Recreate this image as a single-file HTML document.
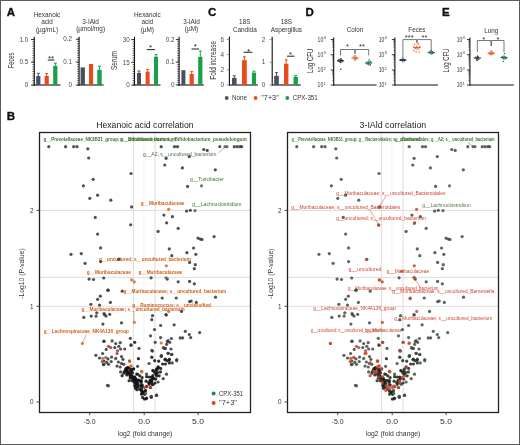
<!DOCTYPE html>
<html><head><meta charset="utf-8"><style>
html,body{margin:0;padding:0;background:#fff;}
body{width:520px;height:445px;overflow:hidden;}
svg{display:block;will-change:transform;font-family:"Liberation Sans", sans-serif;}
</style></head><body>
<svg width="520" height="445" viewBox="0 0 520 445">
<rect x="0" y="0" width="520" height="445" fill="#fff"/>
<text x="6.8" y="15.7" font-size="11.5" font-weight="bold" fill="#111" stroke="#111" stroke-width="0.35">A</text>
<text x="207.9" y="15.9" font-size="11.5" font-weight="bold" fill="#111" stroke="#111" stroke-width="0.35">C</text>
<text x="305.6" y="16.4" font-size="11.5" font-weight="bold" fill="#111" stroke="#111" stroke-width="0.35">D</text>
<text x="442.0" y="15.8" font-size="11.5" font-weight="bold" fill="#111" stroke="#111" stroke-width="0.35">E</text>
<text x="6.8" y="120.4" font-size="11.5" font-weight="bold" fill="#111" stroke="#111" stroke-width="0.35">B</text>
<line x1="34.30" y1="36.70" x2="34.30" y2="85.40" stroke="#111" stroke-width="1.1" />
<line x1="33.80" y1="85.00" x2="60.50" y2="85.00" stroke="#111" stroke-width="1.1" />
<line x1="31.00" y1="39.50" x2="34.30" y2="39.50" stroke="#111" stroke-width="0.8" />
<text x="28.20" y="41.70" font-size="6.3" text-anchor="end" fill="#4a4a4a" >1.0</text>
<line x1="31.00" y1="62.20" x2="34.30" y2="62.20" stroke="#111" stroke-width="0.8" />
<text x="28.20" y="64.40" font-size="6.3" text-anchor="end" fill="#4a4a4a" >0.5</text>
<line x1="31.00" y1="85.20" x2="34.30" y2="85.20" stroke="#111" stroke-width="0.8" />
<text x="28.20" y="87.40" font-size="6.3" text-anchor="end" fill="#4a4a4a" >0</text>
<line x1="32.50" y1="39.50" x2="34.30" y2="39.50" stroke="#222" stroke-width="0.8" />
<line x1="32.50" y1="41.78" x2="34.30" y2="41.78" stroke="#222" stroke-width="0.8" />
<line x1="32.50" y1="44.07" x2="34.30" y2="44.07" stroke="#222" stroke-width="0.8" />
<line x1="32.50" y1="46.36" x2="34.30" y2="46.36" stroke="#222" stroke-width="0.8" />
<line x1="32.50" y1="48.64" x2="34.30" y2="48.64" stroke="#222" stroke-width="0.8" />
<line x1="32.50" y1="50.92" x2="34.30" y2="50.92" stroke="#222" stroke-width="0.8" />
<line x1="32.50" y1="53.21" x2="34.30" y2="53.21" stroke="#222" stroke-width="0.8" />
<line x1="32.50" y1="55.50" x2="34.30" y2="55.50" stroke="#222" stroke-width="0.8" />
<line x1="32.50" y1="57.78" x2="34.30" y2="57.78" stroke="#222" stroke-width="0.8" />
<line x1="32.50" y1="60.06" x2="34.30" y2="60.06" stroke="#222" stroke-width="0.8" />
<line x1="32.50" y1="62.35" x2="34.30" y2="62.35" stroke="#222" stroke-width="0.8" />
<line x1="32.50" y1="64.64" x2="34.30" y2="64.64" stroke="#222" stroke-width="0.8" />
<line x1="32.50" y1="66.92" x2="34.30" y2="66.92" stroke="#222" stroke-width="0.8" />
<line x1="32.50" y1="69.20" x2="34.30" y2="69.20" stroke="#222" stroke-width="0.8" />
<line x1="32.50" y1="71.49" x2="34.30" y2="71.49" stroke="#222" stroke-width="0.8" />
<line x1="32.50" y1="73.78" x2="34.30" y2="73.78" stroke="#222" stroke-width="0.8" />
<line x1="32.50" y1="76.06" x2="34.30" y2="76.06" stroke="#222" stroke-width="0.8" />
<line x1="32.50" y1="78.34" x2="34.30" y2="78.34" stroke="#222" stroke-width="0.8" />
<line x1="32.50" y1="80.63" x2="34.30" y2="80.63" stroke="#222" stroke-width="0.8" />
<line x1="32.50" y1="82.92" x2="34.30" y2="82.92" stroke="#222" stroke-width="0.8" />
<line x1="32.50" y1="85.20" x2="34.30" y2="85.20" stroke="#222" stroke-width="0.8" />
<rect x="36.20" y="76.00" width="4.20" height="9.00" fill="#494f62"/>
<line x1="38.30" y1="76.00" x2="38.30" y2="73.30" stroke="#494f62" stroke-width="1.0" />
<line x1="36.80" y1="73.30" x2="39.80" y2="73.30" stroke="#494f62" stroke-width="1.0" />
<rect x="44.60" y="76.00" width="4.20" height="9.00" fill="#e84c1c"/>
<line x1="46.70" y1="76.00" x2="46.70" y2="73.50" stroke="#e84c1c" stroke-width="1.0" />
<line x1="45.20" y1="73.50" x2="48.20" y2="73.50" stroke="#e84c1c" stroke-width="1.0" />
<rect x="53.20" y="65.80" width="4.20" height="19.20" fill="#18a047"/>
<line x1="55.30" y1="65.80" x2="55.30" y2="63.20" stroke="#18a047" stroke-width="1.0" />
<line x1="53.80" y1="63.20" x2="56.80" y2="63.20" stroke="#18a047" stroke-width="1.0" />
<text x="51.00" y="60.70" font-size="8.0" text-anchor="middle" fill="#222" >**</text>
<line x1="47.80" y1="60.00" x2="54.40" y2="60.00" stroke="#333" stroke-width="1.1" />
<text x="47.00" y="16.80" font-size="6.4" text-anchor="middle" fill="#333" >Hexanoic</text>
<text x="47.00" y="24.40" font-size="6.4" text-anchor="middle" fill="#333" >acid</text>
<text x="47.00" y="31.80" font-size="6.4" text-anchor="middle" fill="#333" >(µg/mL)</text>
<text x="14.10" y="60.50" font-size="8.8" text-anchor="middle" fill="#333" textLength="15.50" lengthAdjust="spacingAndGlyphs" transform="rotate(-90 14.10 60.50)" >Feces</text>
<line x1="79.10" y1="36.70" x2="79.10" y2="85.40" stroke="#111" stroke-width="1.1" />
<line x1="78.60" y1="85.00" x2="103.50" y2="85.00" stroke="#111" stroke-width="1.1" />
<line x1="75.80" y1="39.20" x2="79.10" y2="39.20" stroke="#111" stroke-width="0.8" />
<text x="72.00" y="41.40" font-size="6.3" text-anchor="end" fill="#4a4a4a" >0.2</text>
<line x1="75.80" y1="62.10" x2="79.10" y2="62.10" stroke="#111" stroke-width="0.8" />
<text x="72.00" y="64.30" font-size="6.3" text-anchor="end" fill="#4a4a4a" >0.1</text>
<line x1="75.80" y1="85.00" x2="79.10" y2="85.00" stroke="#111" stroke-width="0.8" />
<text x="72.00" y="87.20" font-size="6.3" text-anchor="end" fill="#4a4a4a" >0</text>
<line x1="77.30" y1="39.20" x2="79.10" y2="39.20" stroke="#222" stroke-width="0.8" />
<line x1="77.30" y1="41.49" x2="79.10" y2="41.49" stroke="#222" stroke-width="0.8" />
<line x1="77.30" y1="43.78" x2="79.10" y2="43.78" stroke="#222" stroke-width="0.8" />
<line x1="77.30" y1="46.07" x2="79.10" y2="46.07" stroke="#222" stroke-width="0.8" />
<line x1="77.30" y1="48.36" x2="79.10" y2="48.36" stroke="#222" stroke-width="0.8" />
<line x1="77.30" y1="50.65" x2="79.10" y2="50.65" stroke="#222" stroke-width="0.8" />
<line x1="77.30" y1="52.94" x2="79.10" y2="52.94" stroke="#222" stroke-width="0.8" />
<line x1="77.30" y1="55.23" x2="79.10" y2="55.23" stroke="#222" stroke-width="0.8" />
<line x1="77.30" y1="57.52" x2="79.10" y2="57.52" stroke="#222" stroke-width="0.8" />
<line x1="77.30" y1="59.81" x2="79.10" y2="59.81" stroke="#222" stroke-width="0.8" />
<line x1="77.30" y1="62.10" x2="79.10" y2="62.10" stroke="#222" stroke-width="0.8" />
<line x1="77.30" y1="64.39" x2="79.10" y2="64.39" stroke="#222" stroke-width="0.8" />
<line x1="77.30" y1="66.68" x2="79.10" y2="66.68" stroke="#222" stroke-width="0.8" />
<line x1="77.30" y1="68.97" x2="79.10" y2="68.97" stroke="#222" stroke-width="0.8" />
<line x1="77.30" y1="71.26" x2="79.10" y2="71.26" stroke="#222" stroke-width="0.8" />
<line x1="77.30" y1="73.55" x2="79.10" y2="73.55" stroke="#222" stroke-width="0.8" />
<line x1="77.30" y1="75.84" x2="79.10" y2="75.84" stroke="#222" stroke-width="0.8" />
<line x1="77.30" y1="78.13" x2="79.10" y2="78.13" stroke="#222" stroke-width="0.8" />
<line x1="77.30" y1="80.42" x2="79.10" y2="80.42" stroke="#222" stroke-width="0.8" />
<line x1="77.30" y1="82.71" x2="79.10" y2="82.71" stroke="#222" stroke-width="0.8" />
<line x1="77.30" y1="85.00" x2="79.10" y2="85.00" stroke="#222" stroke-width="0.8" />
<rect x="80.60" y="67.40" width="4.30" height="17.60" fill="#494f62"/>
<rect x="89.00" y="64.00" width="4.10" height="21.00" fill="#e84c1c"/>
<rect x="97.30" y="69.70" width="4.40" height="15.30" fill="#18a047"/>
<line x1="99.50" y1="69.70" x2="99.50" y2="66.20" stroke="#18a047" stroke-width="1.0" />
<line x1="98.00" y1="66.20" x2="101.00" y2="66.20" stroke="#18a047" stroke-width="1.0" />
<text x="90.60" y="24.10" font-size="6.4" text-anchor="middle" fill="#333" >3-IAld</text>
<text x="90.60" y="31.40" font-size="6.4" text-anchor="middle" fill="#333" >(µmol/mg)</text>
<text x="117.10" y="60.50" font-size="9.0" text-anchor="middle" fill="#333" textLength="19.00" lengthAdjust="spacingAndGlyphs" transform="rotate(-90 117.10 60.50)" >Serum</text>
<line x1="134.50" y1="36.70" x2="134.50" y2="85.40" stroke="#111" stroke-width="1.1" />
<line x1="134.00" y1="85.00" x2="160.50" y2="85.00" stroke="#111" stroke-width="1.1" />
<line x1="131.20" y1="39.60" x2="134.50" y2="39.60" stroke="#111" stroke-width="0.8" />
<text x="129.80" y="41.80" font-size="6.3" text-anchor="end" fill="#4a4a4a" >30</text>
<line x1="131.20" y1="62.40" x2="134.50" y2="62.40" stroke="#111" stroke-width="0.8" />
<text x="129.80" y="64.60" font-size="6.3" text-anchor="end" fill="#4a4a4a" >15</text>
<line x1="131.20" y1="85.10" x2="134.50" y2="85.10" stroke="#111" stroke-width="0.8" />
<text x="129.80" y="87.30" font-size="6.3" text-anchor="end" fill="#4a4a4a" >0</text>
<line x1="132.70" y1="39.60" x2="134.50" y2="39.60" stroke="#222" stroke-width="0.8" />
<line x1="132.70" y1="41.88" x2="134.50" y2="41.88" stroke="#222" stroke-width="0.8" />
<line x1="132.70" y1="44.15" x2="134.50" y2="44.15" stroke="#222" stroke-width="0.8" />
<line x1="132.70" y1="46.42" x2="134.50" y2="46.42" stroke="#222" stroke-width="0.8" />
<line x1="132.70" y1="48.70" x2="134.50" y2="48.70" stroke="#222" stroke-width="0.8" />
<line x1="132.70" y1="50.98" x2="134.50" y2="50.98" stroke="#222" stroke-width="0.8" />
<line x1="132.70" y1="53.25" x2="134.50" y2="53.25" stroke="#222" stroke-width="0.8" />
<line x1="132.70" y1="55.52" x2="134.50" y2="55.52" stroke="#222" stroke-width="0.8" />
<line x1="132.70" y1="57.80" x2="134.50" y2="57.80" stroke="#222" stroke-width="0.8" />
<line x1="132.70" y1="60.08" x2="134.50" y2="60.08" stroke="#222" stroke-width="0.8" />
<line x1="132.70" y1="62.35" x2="134.50" y2="62.35" stroke="#222" stroke-width="0.8" />
<line x1="132.70" y1="64.62" x2="134.50" y2="64.62" stroke="#222" stroke-width="0.8" />
<line x1="132.70" y1="66.90" x2="134.50" y2="66.90" stroke="#222" stroke-width="0.8" />
<line x1="132.70" y1="69.17" x2="134.50" y2="69.17" stroke="#222" stroke-width="0.8" />
<line x1="132.70" y1="71.45" x2="134.50" y2="71.45" stroke="#222" stroke-width="0.8" />
<line x1="132.70" y1="73.72" x2="134.50" y2="73.72" stroke="#222" stroke-width="0.8" />
<line x1="132.70" y1="76.00" x2="134.50" y2="76.00" stroke="#222" stroke-width="0.8" />
<line x1="132.70" y1="78.28" x2="134.50" y2="78.28" stroke="#222" stroke-width="0.8" />
<line x1="132.70" y1="80.55" x2="134.50" y2="80.55" stroke="#222" stroke-width="0.8" />
<line x1="132.70" y1="82.82" x2="134.50" y2="82.82" stroke="#222" stroke-width="0.8" />
<line x1="132.70" y1="85.10" x2="134.50" y2="85.10" stroke="#222" stroke-width="0.8" />
<rect x="137.00" y="73.00" width="4.00" height="12.00" fill="#494f62"/>
<line x1="139.00" y1="73.00" x2="139.00" y2="71.00" stroke="#494f62" stroke-width="1.0" />
<line x1="137.50" y1="71.00" x2="140.50" y2="71.00" stroke="#494f62" stroke-width="1.0" />
<rect x="145.60" y="71.60" width="4.00" height="13.40" fill="#e84c1c"/>
<line x1="147.60" y1="71.60" x2="147.60" y2="69.40" stroke="#e84c1c" stroke-width="1.0" />
<line x1="146.10" y1="69.40" x2="149.10" y2="69.40" stroke="#e84c1c" stroke-width="1.0" />
<rect x="154.00" y="56.70" width="4.00" height="28.30" fill="#18a047"/>
<line x1="156.00" y1="56.70" x2="156.00" y2="54.60" stroke="#18a047" stroke-width="1.0" />
<line x1="154.50" y1="54.60" x2="157.50" y2="54.60" stroke="#18a047" stroke-width="1.0" />
<text x="150.50" y="49.70" font-size="8.0" text-anchor="middle" fill="#222" >*</text>
<line x1="146.70" y1="49.60" x2="155.00" y2="49.60" stroke="#333" stroke-width="1.1" />
<text x="147.30" y="16.70" font-size="6.4" text-anchor="middle" fill="#333" >Hexanoic</text>
<text x="147.30" y="24.20" font-size="6.4" text-anchor="middle" fill="#333" >acid</text>
<text x="147.30" y="32.00" font-size="6.4" text-anchor="middle" fill="#333" >(µM)</text>
<line x1="179.10" y1="36.70" x2="179.10" y2="85.40" stroke="#111" stroke-width="1.1" />
<line x1="178.60" y1="85.00" x2="203.80" y2="85.00" stroke="#111" stroke-width="1.1" />
<line x1="175.80" y1="39.60" x2="179.10" y2="39.60" stroke="#111" stroke-width="0.8" />
<text x="174.50" y="41.80" font-size="6.3" text-anchor="end" fill="#4a4a4a" >0.2</text>
<line x1="175.80" y1="62.10" x2="179.10" y2="62.10" stroke="#111" stroke-width="0.8" />
<text x="174.50" y="64.30" font-size="6.3" text-anchor="end" fill="#4a4a4a" >0.1</text>
<line x1="175.80" y1="84.90" x2="179.10" y2="84.90" stroke="#111" stroke-width="0.8" />
<text x="174.50" y="87.10" font-size="6.3" text-anchor="end" fill="#4a4a4a" >0</text>
<line x1="177.30" y1="39.60" x2="179.10" y2="39.60" stroke="#222" stroke-width="0.8" />
<line x1="177.30" y1="41.87" x2="179.10" y2="41.87" stroke="#222" stroke-width="0.8" />
<line x1="177.30" y1="44.13" x2="179.10" y2="44.13" stroke="#222" stroke-width="0.8" />
<line x1="177.30" y1="46.40" x2="179.10" y2="46.40" stroke="#222" stroke-width="0.8" />
<line x1="177.30" y1="48.66" x2="179.10" y2="48.66" stroke="#222" stroke-width="0.8" />
<line x1="177.30" y1="50.93" x2="179.10" y2="50.93" stroke="#222" stroke-width="0.8" />
<line x1="177.30" y1="53.19" x2="179.10" y2="53.19" stroke="#222" stroke-width="0.8" />
<line x1="177.30" y1="55.45" x2="179.10" y2="55.45" stroke="#222" stroke-width="0.8" />
<line x1="177.30" y1="57.72" x2="179.10" y2="57.72" stroke="#222" stroke-width="0.8" />
<line x1="177.30" y1="59.98" x2="179.10" y2="59.98" stroke="#222" stroke-width="0.8" />
<line x1="177.30" y1="62.25" x2="179.10" y2="62.25" stroke="#222" stroke-width="0.8" />
<line x1="177.30" y1="64.52" x2="179.10" y2="64.52" stroke="#222" stroke-width="0.8" />
<line x1="177.30" y1="66.78" x2="179.10" y2="66.78" stroke="#222" stroke-width="0.8" />
<line x1="177.30" y1="69.05" x2="179.10" y2="69.05" stroke="#222" stroke-width="0.8" />
<line x1="177.30" y1="71.31" x2="179.10" y2="71.31" stroke="#222" stroke-width="0.8" />
<line x1="177.30" y1="73.58" x2="179.10" y2="73.58" stroke="#222" stroke-width="0.8" />
<line x1="177.30" y1="75.84" x2="179.10" y2="75.84" stroke="#222" stroke-width="0.8" />
<line x1="177.30" y1="78.11" x2="179.10" y2="78.11" stroke="#222" stroke-width="0.8" />
<line x1="177.30" y1="80.37" x2="179.10" y2="80.37" stroke="#222" stroke-width="0.8" />
<line x1="177.30" y1="82.64" x2="179.10" y2="82.64" stroke="#222" stroke-width="0.8" />
<line x1="177.30" y1="84.90" x2="179.10" y2="84.90" stroke="#222" stroke-width="0.8" />
<rect x="181.40" y="70.20" width="4.00" height="14.80" fill="#494f62"/>
<rect x="189.60" y="74.00" width="4.20" height="11.00" fill="#e84c1c"/>
<line x1="191.70" y1="74.00" x2="191.70" y2="71.60" stroke="#e84c1c" stroke-width="1.0" />
<line x1="190.20" y1="71.60" x2="193.20" y2="71.60" stroke="#e84c1c" stroke-width="1.0" />
<rect x="198.20" y="56.80" width="4.20" height="28.20" fill="#18a047"/>
<line x1="200.30" y1="56.80" x2="200.30" y2="51.00" stroke="#18a047" stroke-width="1.0" />
<line x1="198.80" y1="51.00" x2="201.80" y2="51.00" stroke="#18a047" stroke-width="1.0" />
<text x="195.30" y="49.30" font-size="8.0" text-anchor="middle" fill="#222" >*</text>
<line x1="191.50" y1="49.00" x2="199.00" y2="49.00" stroke="#333" stroke-width="1.1" />
<text x="191.50" y="24.00" font-size="6.4" text-anchor="middle" fill="#333" >3-IAld</text>
<text x="191.50" y="31.40" font-size="6.4" text-anchor="middle" fill="#333" >(µM)</text>
<line x1="229.40" y1="36.70" x2="229.40" y2="85.40" stroke="#111" stroke-width="1.1" />
<line x1="228.90" y1="85.00" x2="257.80" y2="85.00" stroke="#111" stroke-width="1.1" />
<line x1="226.80" y1="39.50" x2="229.40" y2="39.50" stroke="#777" stroke-width="0.8" />
<text x="224.00" y="41.70" font-size="6.3" text-anchor="end" fill="#4a4a4a" >6</text>
<line x1="226.80" y1="54.60" x2="229.40" y2="54.60" stroke="#777" stroke-width="0.8" />
<text x="224.00" y="56.80" font-size="6.3" text-anchor="end" fill="#4a4a4a" >4</text>
<line x1="226.80" y1="69.80" x2="229.40" y2="69.80" stroke="#777" stroke-width="0.8" />
<text x="224.00" y="72.00" font-size="6.3" text-anchor="end" fill="#4a4a4a" >2</text>
<line x1="226.80" y1="85.00" x2="229.40" y2="85.00" stroke="#777" stroke-width="0.8" />
<text x="224.00" y="87.20" font-size="6.3" text-anchor="end" fill="#4a4a4a" >0</text>
<rect x="232.00" y="77.90" width="4.60" height="7.10" fill="#494f62"/>
<line x1="234.30" y1="77.90" x2="234.30" y2="75.80" stroke="#494f62" stroke-width="1.0" />
<line x1="232.80" y1="75.80" x2="235.80" y2="75.80" stroke="#494f62" stroke-width="1.0" />
<rect x="242.00" y="60.20" width="4.80" height="24.80" fill="#e84c1c"/>
<line x1="244.40" y1="60.20" x2="244.40" y2="56.80" stroke="#e84c1c" stroke-width="1.0" />
<line x1="242.90" y1="56.80" x2="245.90" y2="56.80" stroke="#e84c1c" stroke-width="1.0" />
<rect x="251.90" y="72.60" width="4.20" height="12.40" fill="#18a047"/>
<line x1="254.00" y1="72.60" x2="254.00" y2="71.20" stroke="#18a047" stroke-width="1.0" />
<line x1="252.50" y1="71.20" x2="255.50" y2="71.20" stroke="#18a047" stroke-width="1.0" />
<text x="248.60" y="53.90" font-size="8.0" text-anchor="middle" fill="#222" >*</text>
<line x1="243.60" y1="52.30" x2="252.40" y2="52.30" stroke="#333" stroke-width="1.1" />
<text x="244.80" y="23.50" font-size="6.4" text-anchor="middle" fill="#333" >18S</text>
<text x="244.80" y="31.60" font-size="6.4" text-anchor="middle" fill="#333" >Candida</text>
<text x="215.80" y="60.40" font-size="9.0" text-anchor="middle" fill="#333" textLength="38.80" lengthAdjust="spacingAndGlyphs" transform="rotate(-90 215.80 60.40)" >Fold increase</text>
<line x1="272.20" y1="36.70" x2="272.20" y2="85.40" stroke="#111" stroke-width="1.1" />
<line x1="271.70" y1="85.00" x2="300.80" y2="85.00" stroke="#111" stroke-width="1.1" />
<line x1="269.60" y1="39.40" x2="272.20" y2="39.40" stroke="#777" stroke-width="0.8" />
<text x="265.20" y="41.60" font-size="6.3" text-anchor="end" fill="#4a4a4a" >2</text>
<line x1="269.60" y1="62.20" x2="272.20" y2="62.20" stroke="#777" stroke-width="0.8" />
<text x="265.20" y="64.40" font-size="6.3" text-anchor="end" fill="#4a4a4a" >1</text>
<line x1="269.60" y1="85.00" x2="272.20" y2="85.00" stroke="#777" stroke-width="0.8" />
<text x="265.20" y="87.20" font-size="6.3" text-anchor="end" fill="#4a4a4a" >0</text>
<rect x="274.20" y="75.80" width="4.60" height="9.20" fill="#494f62"/>
<line x1="276.50" y1="75.80" x2="276.50" y2="72.60" stroke="#494f62" stroke-width="1.0" />
<line x1="275.00" y1="72.60" x2="278.00" y2="72.60" stroke="#494f62" stroke-width="1.0" />
<rect x="284.00" y="63.70" width="4.40" height="21.30" fill="#e84c1c"/>
<line x1="286.20" y1="63.70" x2="286.20" y2="59.80" stroke="#e84c1c" stroke-width="1.0" />
<line x1="284.70" y1="59.80" x2="287.70" y2="59.80" stroke="#e84c1c" stroke-width="1.0" />
<rect x="293.50" y="76.80" width="4.40" height="8.20" fill="#18a047"/>
<line x1="295.70" y1="76.80" x2="295.70" y2="75.40" stroke="#18a047" stroke-width="1.0" />
<line x1="294.20" y1="75.40" x2="297.20" y2="75.40" stroke="#18a047" stroke-width="1.0" />
<text x="290.60" y="56.90" font-size="8.0" text-anchor="middle" fill="#222" >*</text>
<line x1="287.00" y1="56.20" x2="294.60" y2="56.20" stroke="#333" stroke-width="1.1" />
<text x="286.40" y="23.90" font-size="6.4" text-anchor="middle" fill="#333" >18S</text>
<text x="286.40" y="32.00" font-size="6.4" text-anchor="middle" fill="#333" >Aspergillus</text>
<circle cx="226.70" cy="98.00" r="1.9" fill="#494f62"/>
<text x="232.00" y="100.40" font-size="6.8" text-anchor="start" fill="#333" textLength="15.00" lengthAdjust="spacingAndGlyphs" >None</text>
<circle cx="255.60" cy="98.00" r="1.9" fill="#e84c1c"/>
<text x="261.30" y="100.40" font-size="6.8" text-anchor="start" fill="#333" textLength="17.40" lengthAdjust="spacingAndGlyphs" >"7+3"</text>
<circle cx="287.30" cy="98.00" r="1.9" fill="#18a047"/>
<text x="292.70" y="100.40" font-size="6.8" text-anchor="start" fill="#333" textLength="25.00" lengthAdjust="spacingAndGlyphs" >CPX-351</text>
<line x1="333.70" y1="37.60" x2="333.70" y2="85.40" stroke="#111" stroke-width="1.1" />
<line x1="333.20" y1="85.00" x2="376.60" y2="85.00" stroke="#111" stroke-width="1.1" />
<line x1="330.70" y1="39.50" x2="333.70" y2="39.50" stroke="#111" stroke-width="0.8" />
<text x="317.60" y="41.70" font-size="6.3" text-anchor="start" fill="#333" textLength="5.60" lengthAdjust="spacingAndGlyphs" >10</text>
<text x="323.40" y="39.00" font-size="4.2" text-anchor="start" fill="#333" >4</text>
<line x1="330.70" y1="54.70" x2="333.70" y2="54.70" stroke="#111" stroke-width="0.8" />
<text x="317.60" y="56.90" font-size="6.3" text-anchor="start" fill="#333" textLength="5.60" lengthAdjust="spacingAndGlyphs" >10</text>
<text x="323.40" y="54.20" font-size="4.2" text-anchor="start" fill="#333" >3</text>
<line x1="330.70" y1="70.00" x2="333.70" y2="70.00" stroke="#111" stroke-width="0.8" />
<text x="317.60" y="72.20" font-size="6.3" text-anchor="start" fill="#333" textLength="5.60" lengthAdjust="spacingAndGlyphs" >10</text>
<text x="323.40" y="69.50" font-size="4.2" text-anchor="start" fill="#333" >2</text>
<line x1="330.70" y1="85.00" x2="333.70" y2="85.00" stroke="#111" stroke-width="0.8" />
<text x="317.60" y="87.20" font-size="6.3" text-anchor="start" fill="#333" textLength="5.60" lengthAdjust="spacingAndGlyphs" >10</text>
<text x="323.40" y="84.50" font-size="4.2" text-anchor="start" fill="#333" >1</text>
<line x1="332.20" y1="50.12" x2="333.70" y2="50.12" stroke="#222" stroke-width="0.5" />
<line x1="332.20" y1="47.45" x2="333.70" y2="47.45" stroke="#222" stroke-width="0.5" />
<line x1="332.20" y1="45.55" x2="333.70" y2="45.55" stroke="#222" stroke-width="0.5" />
<line x1="332.20" y1="44.08" x2="333.70" y2="44.08" stroke="#222" stroke-width="0.5" />
<line x1="332.20" y1="42.87" x2="333.70" y2="42.87" stroke="#222" stroke-width="0.5" />
<line x1="332.20" y1="41.85" x2="333.70" y2="41.85" stroke="#222" stroke-width="0.5" />
<line x1="332.20" y1="40.97" x2="333.70" y2="40.97" stroke="#222" stroke-width="0.5" />
<line x1="332.20" y1="40.20" x2="333.70" y2="40.20" stroke="#222" stroke-width="0.5" />
<line x1="332.20" y1="65.39" x2="333.70" y2="65.39" stroke="#222" stroke-width="0.5" />
<line x1="332.20" y1="62.70" x2="333.70" y2="62.70" stroke="#222" stroke-width="0.5" />
<line x1="332.20" y1="60.79" x2="333.70" y2="60.79" stroke="#222" stroke-width="0.5" />
<line x1="332.20" y1="59.31" x2="333.70" y2="59.31" stroke="#222" stroke-width="0.5" />
<line x1="332.20" y1="58.09" x2="333.70" y2="58.09" stroke="#222" stroke-width="0.5" />
<line x1="332.20" y1="57.07" x2="333.70" y2="57.07" stroke="#222" stroke-width="0.5" />
<line x1="332.20" y1="56.18" x2="333.70" y2="56.18" stroke="#222" stroke-width="0.5" />
<line x1="332.20" y1="55.40" x2="333.70" y2="55.40" stroke="#222" stroke-width="0.5" />
<line x1="332.20" y1="80.48" x2="333.70" y2="80.48" stroke="#222" stroke-width="0.5" />
<line x1="332.20" y1="77.84" x2="333.70" y2="77.84" stroke="#222" stroke-width="0.5" />
<line x1="332.20" y1="75.97" x2="333.70" y2="75.97" stroke="#222" stroke-width="0.5" />
<line x1="332.20" y1="74.52" x2="333.70" y2="74.52" stroke="#222" stroke-width="0.5" />
<line x1="332.20" y1="73.33" x2="333.70" y2="73.33" stroke="#222" stroke-width="0.5" />
<line x1="332.20" y1="72.32" x2="333.70" y2="72.32" stroke="#222" stroke-width="0.5" />
<line x1="332.20" y1="71.45" x2="333.70" y2="71.45" stroke="#222" stroke-width="0.5" />
<line x1="332.20" y1="70.69" x2="333.70" y2="70.69" stroke="#222" stroke-width="0.5" />
<text x="355.00" y="32.10" font-size="6.3" text-anchor="middle" fill="#333" >Colon</text>
<text x="313.00" y="60.75" font-size="8.4" text-anchor="middle" fill="#333" textLength="24.30" lengthAdjust="spacingAndGlyphs" transform="rotate(-90 313.00 60.75)" >Log CFU</text>
<polyline points="340.50,55.50 340.50,49.50 354.80,49.50 354.80,53.80" fill="none" stroke="#555" stroke-width="0.8"/>
<polyline points="355.20,53.80 355.20,49.50 368.70,49.50 368.70,55.50" fill="none" stroke="#555" stroke-width="0.8"/>
<text x="347.40" y="49.00" font-size="7.5" text-anchor="middle" fill="#333" >*</text>
<text x="361.90" y="49.00" font-size="7.5" text-anchor="middle" fill="#333" >**</text>
<circle cx="339.00" cy="59.60" r="0.75" fill="#222a40"/>
<circle cx="341.70" cy="60.00" r="0.75" fill="#222a40"/>
<circle cx="339.70" cy="61.80" r="0.75" fill="#222a40"/>
<circle cx="342.00" cy="62.00" r="0.75" fill="#222a40"/>
<circle cx="340.50" cy="60.80" r="0.75" fill="#222a40"/>
<circle cx="338.50" cy="61.10" r="0.75" fill="#222a40"/>
<circle cx="342.50" cy="60.60" r="0.75" fill="#222a40"/>
<circle cx="340.80" cy="69.30" r="0.75" fill="#222a40"/>
<circle cx="341.00" cy="58.80" r="0.75" fill="#222a40"/>
<line x1="336.90" y1="60.80" x2="344.10" y2="60.80" stroke="#222a40" stroke-width="1.1" />
<line x1="340.50" y1="58.30" x2="340.50" y2="63.30" stroke="#222a40" stroke-width="0.8" />
<circle cx="353.50" cy="57.00" r="0.75" fill="#e2622f"/>
<circle cx="356.20" cy="57.20" r="0.75" fill="#e2622f"/>
<circle cx="354.20" cy="59.00" r="0.75" fill="#e2622f"/>
<circle cx="356.50" cy="58.90" r="0.75" fill="#e2622f"/>
<circle cx="355.00" cy="58.00" r="0.75" fill="#e2622f"/>
<circle cx="355.00" cy="55.80" r="0.75" fill="#e2622f"/>
<circle cx="355.20" cy="60.00" r="0.75" fill="#e2622f"/>
<line x1="351.40" y1="58.00" x2="358.60" y2="58.00" stroke="#e2622f" stroke-width="1.1" />
<line x1="355.00" y1="55.50" x2="355.00" y2="60.50" stroke="#e2622f" stroke-width="0.8" />
<circle cx="367.20" cy="62.00" r="0.75" fill="#1d6e4f"/>
<circle cx="369.90" cy="62.20" r="0.75" fill="#1d6e4f"/>
<circle cx="367.90" cy="64.00" r="0.75" fill="#1d6e4f"/>
<circle cx="370.20" cy="64.20" r="0.75" fill="#1d6e4f"/>
<circle cx="368.70" cy="63.00" r="0.75" fill="#1d6e4f"/>
<circle cx="366.70" cy="63.80" r="0.75" fill="#1d6e4f"/>
<circle cx="370.70" cy="61.50" r="0.75" fill="#1d6e4f"/>
<circle cx="369.30" cy="59.80" r="0.75" fill="#1d6e4f"/>
<circle cx="370.20" cy="65.00" r="0.75" fill="#1d6e4f"/>
<line x1="365.10" y1="63.00" x2="372.30" y2="63.00" stroke="#1d6e4f" stroke-width="1.1" />
<line x1="368.70" y1="60.50" x2="368.70" y2="65.50" stroke="#1d6e4f" stroke-width="0.8" />
<line x1="394.90" y1="37.60" x2="394.90" y2="85.40" stroke="#111" stroke-width="1.1" />
<line x1="394.40" y1="85.00" x2="438.00" y2="85.00" stroke="#111" stroke-width="1.1" />
<line x1="391.90" y1="39.50" x2="394.90" y2="39.50" stroke="#111" stroke-width="0.8" />
<text x="378.80" y="41.70" font-size="6.3" text-anchor="start" fill="#333" textLength="5.60" lengthAdjust="spacingAndGlyphs" >10</text>
<text x="384.60" y="39.00" font-size="4.2" text-anchor="start" fill="#333" >4</text>
<line x1="391.90" y1="54.70" x2="394.90" y2="54.70" stroke="#111" stroke-width="0.8" />
<text x="378.80" y="56.90" font-size="6.3" text-anchor="start" fill="#333" textLength="5.60" lengthAdjust="spacingAndGlyphs" >10</text>
<text x="384.60" y="54.20" font-size="4.2" text-anchor="start" fill="#333" >3</text>
<line x1="391.90" y1="70.00" x2="394.90" y2="70.00" stroke="#111" stroke-width="0.8" />
<text x="378.80" y="72.20" font-size="6.3" text-anchor="start" fill="#333" textLength="5.60" lengthAdjust="spacingAndGlyphs" >10</text>
<text x="384.60" y="69.50" font-size="4.2" text-anchor="start" fill="#333" >2</text>
<line x1="391.90" y1="85.00" x2="394.90" y2="85.00" stroke="#111" stroke-width="0.8" />
<text x="378.80" y="87.20" font-size="6.3" text-anchor="start" fill="#333" textLength="5.60" lengthAdjust="spacingAndGlyphs" >10</text>
<text x="384.60" y="84.50" font-size="4.2" text-anchor="start" fill="#333" >1</text>
<line x1="393.40" y1="50.12" x2="394.90" y2="50.12" stroke="#222" stroke-width="0.5" />
<line x1="393.40" y1="47.45" x2="394.90" y2="47.45" stroke="#222" stroke-width="0.5" />
<line x1="393.40" y1="45.55" x2="394.90" y2="45.55" stroke="#222" stroke-width="0.5" />
<line x1="393.40" y1="44.08" x2="394.90" y2="44.08" stroke="#222" stroke-width="0.5" />
<line x1="393.40" y1="42.87" x2="394.90" y2="42.87" stroke="#222" stroke-width="0.5" />
<line x1="393.40" y1="41.85" x2="394.90" y2="41.85" stroke="#222" stroke-width="0.5" />
<line x1="393.40" y1="40.97" x2="394.90" y2="40.97" stroke="#222" stroke-width="0.5" />
<line x1="393.40" y1="40.20" x2="394.90" y2="40.20" stroke="#222" stroke-width="0.5" />
<line x1="393.40" y1="65.39" x2="394.90" y2="65.39" stroke="#222" stroke-width="0.5" />
<line x1="393.40" y1="62.70" x2="394.90" y2="62.70" stroke="#222" stroke-width="0.5" />
<line x1="393.40" y1="60.79" x2="394.90" y2="60.79" stroke="#222" stroke-width="0.5" />
<line x1="393.40" y1="59.31" x2="394.90" y2="59.31" stroke="#222" stroke-width="0.5" />
<line x1="393.40" y1="58.09" x2="394.90" y2="58.09" stroke="#222" stroke-width="0.5" />
<line x1="393.40" y1="57.07" x2="394.90" y2="57.07" stroke="#222" stroke-width="0.5" />
<line x1="393.40" y1="56.18" x2="394.90" y2="56.18" stroke="#222" stroke-width="0.5" />
<line x1="393.40" y1="55.40" x2="394.90" y2="55.40" stroke="#222" stroke-width="0.5" />
<line x1="393.40" y1="80.48" x2="394.90" y2="80.48" stroke="#222" stroke-width="0.5" />
<line x1="393.40" y1="77.84" x2="394.90" y2="77.84" stroke="#222" stroke-width="0.5" />
<line x1="393.40" y1="75.97" x2="394.90" y2="75.97" stroke="#222" stroke-width="0.5" />
<line x1="393.40" y1="74.52" x2="394.90" y2="74.52" stroke="#222" stroke-width="0.5" />
<line x1="393.40" y1="73.33" x2="394.90" y2="73.33" stroke="#222" stroke-width="0.5" />
<line x1="393.40" y1="72.32" x2="394.90" y2="72.32" stroke="#222" stroke-width="0.5" />
<line x1="393.40" y1="71.45" x2="394.90" y2="71.45" stroke="#222" stroke-width="0.5" />
<line x1="393.40" y1="70.69" x2="394.90" y2="70.69" stroke="#222" stroke-width="0.5" />
<text x="416.90" y="31.70" font-size="6.3" text-anchor="middle" fill="#333" >Feces</text>
<polyline points="402.90,58.50 402.90,39.60 416.60,39.60 416.60,42.50" fill="none" stroke="#555" stroke-width="0.8"/>
<polyline points="417.20,42.50 417.20,39.60 431.20,39.60 431.20,50.50" fill="none" stroke="#555" stroke-width="0.8"/>
<text x="409.20" y="39.80" font-size="7.5" text-anchor="middle" fill="#333" >***</text>
<text x="424.50" y="39.80" font-size="7.5" text-anchor="middle" fill="#333" >**</text>
<circle cx="401.40" cy="59.60" r="0.75" fill="#222a40"/>
<circle cx="404.10" cy="59.60" r="0.75" fill="#222a40"/>
<circle cx="402.10" cy="60.60" r="0.75" fill="#222a40"/>
<circle cx="404.40" cy="60.70" r="0.75" fill="#222a40"/>
<circle cx="402.90" cy="60.10" r="0.75" fill="#222a40"/>
<circle cx="400.70" cy="60.30" r="0.75" fill="#222a40"/>
<circle cx="405.10" cy="60.10" r="0.75" fill="#222a40"/>
<line x1="399.30" y1="60.10" x2="406.50" y2="60.10" stroke="#222a40" stroke-width="1.1" />
<line x1="402.90" y1="57.60" x2="402.90" y2="62.60" stroke="#222a40" stroke-width="0.8" />
<circle cx="414.40" cy="44.50" r="0.75" fill="#e2622f"/>
<circle cx="418.70" cy="44.00" r="0.75" fill="#e2622f"/>
<circle cx="415.40" cy="48.50" r="0.75" fill="#e2622f"/>
<circle cx="418.90" cy="48.70" r="0.75" fill="#e2622f"/>
<circle cx="416.90" cy="47.50" r="0.75" fill="#e2622f"/>
<circle cx="413.90" cy="47.00" r="0.75" fill="#e2622f"/>
<circle cx="419.90" cy="46.50" r="0.75" fill="#e2622f"/>
<circle cx="417.40" cy="43.00" r="0.75" fill="#e2622f"/>
<circle cx="416.10" cy="51.70" r="0.75" fill="#e2622f"/>
<circle cx="419.10" cy="52.00" r="0.75" fill="#e2622f"/>
<circle cx="413.90" cy="50.50" r="0.75" fill="#e2622f"/>
<line x1="413.30" y1="47.50" x2="420.50" y2="47.50" stroke="#e2622f" stroke-width="1.1" />
<line x1="416.90" y1="45.00" x2="416.90" y2="50.00" stroke="#e2622f" stroke-width="0.8" />
<circle cx="429.70" cy="51.70" r="0.75" fill="#1d6e4f"/>
<circle cx="432.40" cy="51.70" r="0.75" fill="#1d6e4f"/>
<circle cx="430.40" cy="53.30" r="0.75" fill="#1d6e4f"/>
<circle cx="432.70" cy="53.40" r="0.75" fill="#1d6e4f"/>
<circle cx="431.20" cy="52.50" r="0.75" fill="#1d6e4f"/>
<circle cx="429.00" cy="52.50" r="0.75" fill="#1d6e4f"/>
<circle cx="433.40" cy="52.70" r="0.75" fill="#1d6e4f"/>
<circle cx="431.20" cy="50.50" r="0.75" fill="#1d6e4f"/>
<line x1="427.60" y1="52.50" x2="434.80" y2="52.50" stroke="#1d6e4f" stroke-width="1.1" />
<line x1="431.20" y1="50.00" x2="431.20" y2="55.00" stroke="#1d6e4f" stroke-width="0.8" />
<line x1="469.90" y1="37.60" x2="469.90" y2="85.40" stroke="#111" stroke-width="1.1" />
<line x1="469.40" y1="85.00" x2="513.80" y2="85.00" stroke="#111" stroke-width="1.1" />
<line x1="466.90" y1="39.50" x2="469.90" y2="39.50" stroke="#111" stroke-width="0.8" />
<text x="456.80" y="41.70" font-size="6.3" text-anchor="start" fill="#333" textLength="5.60" lengthAdjust="spacingAndGlyphs" >10</text>
<text x="462.60" y="39.00" font-size="4.2" text-anchor="start" fill="#333" >4</text>
<line x1="466.90" y1="54.70" x2="469.90" y2="54.70" stroke="#111" stroke-width="0.8" />
<text x="456.80" y="56.90" font-size="6.3" text-anchor="start" fill="#333" textLength="5.60" lengthAdjust="spacingAndGlyphs" >10</text>
<text x="462.60" y="54.20" font-size="4.2" text-anchor="start" fill="#333" >3</text>
<line x1="466.90" y1="70.00" x2="469.90" y2="70.00" stroke="#111" stroke-width="0.8" />
<text x="456.80" y="72.20" font-size="6.3" text-anchor="start" fill="#333" textLength="5.60" lengthAdjust="spacingAndGlyphs" >10</text>
<text x="462.60" y="69.50" font-size="4.2" text-anchor="start" fill="#333" >2</text>
<line x1="466.90" y1="85.00" x2="469.90" y2="85.00" stroke="#111" stroke-width="0.8" />
<text x="456.80" y="87.20" font-size="6.3" text-anchor="start" fill="#333" textLength="5.60" lengthAdjust="spacingAndGlyphs" >10</text>
<text x="462.60" y="84.50" font-size="4.2" text-anchor="start" fill="#333" >1</text>
<line x1="468.40" y1="50.12" x2="469.90" y2="50.12" stroke="#222" stroke-width="0.5" />
<line x1="468.40" y1="47.45" x2="469.90" y2="47.45" stroke="#222" stroke-width="0.5" />
<line x1="468.40" y1="45.55" x2="469.90" y2="45.55" stroke="#222" stroke-width="0.5" />
<line x1="468.40" y1="44.08" x2="469.90" y2="44.08" stroke="#222" stroke-width="0.5" />
<line x1="468.40" y1="42.87" x2="469.90" y2="42.87" stroke="#222" stroke-width="0.5" />
<line x1="468.40" y1="41.85" x2="469.90" y2="41.85" stroke="#222" stroke-width="0.5" />
<line x1="468.40" y1="40.97" x2="469.90" y2="40.97" stroke="#222" stroke-width="0.5" />
<line x1="468.40" y1="40.20" x2="469.90" y2="40.20" stroke="#222" stroke-width="0.5" />
<line x1="468.40" y1="65.39" x2="469.90" y2="65.39" stroke="#222" stroke-width="0.5" />
<line x1="468.40" y1="62.70" x2="469.90" y2="62.70" stroke="#222" stroke-width="0.5" />
<line x1="468.40" y1="60.79" x2="469.90" y2="60.79" stroke="#222" stroke-width="0.5" />
<line x1="468.40" y1="59.31" x2="469.90" y2="59.31" stroke="#222" stroke-width="0.5" />
<line x1="468.40" y1="58.09" x2="469.90" y2="58.09" stroke="#222" stroke-width="0.5" />
<line x1="468.40" y1="57.07" x2="469.90" y2="57.07" stroke="#222" stroke-width="0.5" />
<line x1="468.40" y1="56.18" x2="469.90" y2="56.18" stroke="#222" stroke-width="0.5" />
<line x1="468.40" y1="55.40" x2="469.90" y2="55.40" stroke="#222" stroke-width="0.5" />
<line x1="468.40" y1="80.48" x2="469.90" y2="80.48" stroke="#222" stroke-width="0.5" />
<line x1="468.40" y1="77.84" x2="469.90" y2="77.84" stroke="#222" stroke-width="0.5" />
<line x1="468.40" y1="75.97" x2="469.90" y2="75.97" stroke="#222" stroke-width="0.5" />
<line x1="468.40" y1="74.52" x2="469.90" y2="74.52" stroke="#222" stroke-width="0.5" />
<line x1="468.40" y1="73.33" x2="469.90" y2="73.33" stroke="#222" stroke-width="0.5" />
<line x1="468.40" y1="72.32" x2="469.90" y2="72.32" stroke="#222" stroke-width="0.5" />
<line x1="468.40" y1="71.45" x2="469.90" y2="71.45" stroke="#222" stroke-width="0.5" />
<line x1="468.40" y1="70.69" x2="469.90" y2="70.69" stroke="#222" stroke-width="0.5" />
<text x="491.20" y="32.50" font-size="6.3" text-anchor="middle" fill="#333" >Lung</text>
<text x="449.00" y="60.50" font-size="8.4" text-anchor="middle" fill="#333" textLength="23.80" lengthAdjust="spacingAndGlyphs" transform="rotate(-90 449.00 60.50)" >Log CFU</text>
<polyline points="477.30,52.00 477.30,40.50 490.90,40.50 490.90,46.00" fill="none" stroke="#555" stroke-width="0.8"/>
<polyline points="491.50,46.00 491.50,40.50 504.00,40.50 504.00,52.00" fill="none" stroke="#555" stroke-width="0.8"/>
<text x="483.70" y="42.00" font-size="7.5" text-anchor="middle" fill="#333" >*</text>
<text x="498.00" y="42.00" font-size="7.5" text-anchor="middle" fill="#333" >*</text>
<circle cx="475.80" cy="57.20" r="0.75" fill="#222a40"/>
<circle cx="478.50" cy="57.20" r="0.75" fill="#222a40"/>
<circle cx="476.50" cy="58.90" r="0.75" fill="#222a40"/>
<circle cx="478.80" cy="59.20" r="0.75" fill="#222a40"/>
<circle cx="477.30" cy="58.00" r="0.75" fill="#222a40"/>
<circle cx="477.00" cy="60.50" r="0.75" fill="#222a40"/>
<circle cx="477.70" cy="56.20" r="0.75" fill="#222a40"/>
<line x1="473.70" y1="58.00" x2="480.90" y2="58.00" stroke="#222a40" stroke-width="1.1" />
<line x1="477.30" y1="55.50" x2="477.30" y2="60.50" stroke="#222a40" stroke-width="0.8" />
<circle cx="489.70" cy="52.30" r="0.75" fill="#e2622f"/>
<circle cx="492.40" cy="52.20" r="0.75" fill="#e2622f"/>
<circle cx="490.40" cy="54.30" r="0.75" fill="#e2622f"/>
<circle cx="492.70" cy="54.20" r="0.75" fill="#e2622f"/>
<circle cx="491.20" cy="53.30" r="0.75" fill="#e2622f"/>
<circle cx="491.20" cy="51.10" r="0.75" fill="#e2622f"/>
<circle cx="489.20" cy="53.80" r="0.75" fill="#e2622f"/>
<circle cx="493.40" cy="53.30" r="0.75" fill="#e2622f"/>
<line x1="487.60" y1="53.30" x2="494.80" y2="53.30" stroke="#e2622f" stroke-width="1.1" />
<line x1="491.20" y1="50.80" x2="491.20" y2="55.80" stroke="#e2622f" stroke-width="0.8" />
<circle cx="502.50" cy="56.60" r="0.75" fill="#1d6e4f"/>
<circle cx="505.20" cy="56.80" r="0.75" fill="#1d6e4f"/>
<circle cx="503.20" cy="58.80" r="0.75" fill="#1d6e4f"/>
<circle cx="505.50" cy="58.80" r="0.75" fill="#1d6e4f"/>
<circle cx="504.00" cy="57.60" r="0.75" fill="#1d6e4f"/>
<circle cx="503.20" cy="61.40" r="0.75" fill="#1d6e4f"/>
<circle cx="504.50" cy="53.60" r="0.75" fill="#1d6e4f"/>
<circle cx="506.30" cy="58.10" r="0.75" fill="#1d6e4f"/>
<circle cx="501.70" cy="57.40" r="0.75" fill="#1d6e4f"/>
<line x1="500.40" y1="57.60" x2="507.60" y2="57.60" stroke="#1d6e4f" stroke-width="1.1" />
<line x1="504.00" y1="55.10" x2="504.00" y2="60.10" stroke="#1d6e4f" stroke-width="0.8" />
<line x1="39.50" y1="210.40" x2="250.50" y2="210.40" stroke="#cfcfcf" stroke-width="0.7" />
<line x1="39.50" y1="277.40" x2="250.50" y2="277.40" stroke="#cfcfcf" stroke-width="0.7" />
<line x1="39.50" y1="306.30" x2="250.50" y2="306.30" stroke="#cfcfcf" stroke-width="0.7" />
<line x1="133.40" y1="132.50" x2="133.40" y2="412.50" stroke="#cfcfcf" stroke-width="0.7" />
<line x1="155.00" y1="132.50" x2="155.00" y2="412.50" stroke="#cfcfcf" stroke-width="0.7" />
<line x1="144.00" y1="132.50" x2="144.00" y2="412.50" stroke="#efefef" stroke-width="0.7" />
<text x="144.90" y="127.60" font-size="9.0" text-anchor="middle" fill="#222" textLength="97.40" lengthAdjust="spacingAndGlyphs" >Hexanoic acid correlation</text>
<line x1="36.50" y1="210.40" x2="39.50" y2="210.40" stroke="#222" stroke-width="0.8" />
<text x="33.50" y="212.60" font-size="6.3" text-anchor="end" fill="#333" >2</text>
<line x1="36.50" y1="306.30" x2="39.50" y2="306.30" stroke="#222" stroke-width="0.8" />
<text x="33.50" y="308.50" font-size="6.3" text-anchor="end" fill="#333" >1</text>
<line x1="36.50" y1="402.00" x2="39.50" y2="402.00" stroke="#222" stroke-width="0.8" />
<text x="33.50" y="404.20" font-size="6.3" text-anchor="end" fill="#333" >0</text>
<line x1="89.70" y1="412.50" x2="89.70" y2="415.30" stroke="#222" stroke-width="0.8" />
<text x="89.70" y="424.20" font-size="6.3" text-anchor="middle" fill="#333" textLength="12.00" lengthAdjust="spacingAndGlyphs" >-5.0</text>
<line x1="144.20" y1="412.50" x2="144.20" y2="415.30" stroke="#222" stroke-width="0.8" />
<text x="144.20" y="424.20" font-size="6.3" text-anchor="middle" fill="#333" textLength="12.00" lengthAdjust="spacingAndGlyphs" >0.0</text>
<line x1="198.10" y1="412.50" x2="198.10" y2="415.30" stroke="#222" stroke-width="0.8" />
<text x="198.10" y="424.20" font-size="6.3" text-anchor="middle" fill="#333" textLength="12.00" lengthAdjust="spacingAndGlyphs" >5.0</text>
<text x="145.00" y="435.50" font-size="7.6" text-anchor="middle" fill="#333" textLength="54.60" lengthAdjust="spacingAndGlyphs" >log2 (fold change)</text>
<text x="24.20" y="273.60" font-size="7.2" text-anchor="middle" fill="#333" textLength="50.50" lengthAdjust="spacingAndGlyphs" transform="rotate(-90 24.20 273.60)" >-Log10 (P-value)</text>
<text x="43.40" y="140.80" font-size="5.0" text-anchor="start" fill="#3f7230" font-weight="bold" textLength="132.60" lengthAdjust="spacingAndGlyphs" >g__Prevotellaceae_NK3B31_group; s__uncultured_bacterium</text>
<text x="120.00" y="140.80" font-size="5.0" text-anchor="start" fill="#3f7230" font-weight="bold" textLength="126.60" lengthAdjust="spacingAndGlyphs" >g__Bifidobacterium; s__Bifidobacterium_pseudolongum</text>
<text x="143.00" y="156.30" font-size="5.0" text-anchor="start" fill="#46703a" textLength="73.50" lengthAdjust="spacingAndGlyphs" >g__A2; s__uncultured_bacterium</text>
<line x1="218.50" y1="152.80" x2="224.50" y2="147.50" stroke="#3f7230" stroke-width="0.5" />
<text x="189.90" y="181.10" font-size="5.0" text-anchor="start" fill="#46703a" textLength="33.90" lengthAdjust="spacingAndGlyphs" >g__Turicibacter</text>
<text x="192.30" y="206.00" font-size="5.0" text-anchor="start" fill="#46703a" textLength="49.30" lengthAdjust="spacingAndGlyphs" >g__Lachnoclostridium</text>
<text x="140.80" y="205.10" font-size="5.0" text-anchor="start" fill="#d05e1a" font-weight="bold" textLength="43.70" lengthAdjust="spacingAndGlyphs" >g__Muribaculaceae</text>
<text x="99.00" y="261.00" font-size="5.0" text-anchor="start" fill="#d05e1a" font-weight="bold" textLength="91.80" lengthAdjust="spacingAndGlyphs" >g__uncultured; s__uncultured_bacterium</text>
<text x="86.80" y="273.80" font-size="5.0" text-anchor="start" fill="#d05e1a" font-weight="bold" textLength="44.00" lengthAdjust="spacingAndGlyphs" >g__Muribaculaceae</text>
<text x="138.50" y="273.80" font-size="5.0" text-anchor="start" fill="#d05e1a" font-weight="bold" textLength="43.70" lengthAdjust="spacingAndGlyphs" >g__Muribaculaceae</text>
<text x="123.50" y="292.60" font-size="5.0" text-anchor="start" fill="#d05e1a" font-weight="bold" textLength="102.70" lengthAdjust="spacingAndGlyphs" >g__Muribaculaceae; s__uncultured_bacterium</text>
<text x="132.30" y="306.70" font-size="5.0" text-anchor="start" fill="#d05e1a" font-weight="bold" textLength="78.50" lengthAdjust="spacingAndGlyphs" >g__Ruminococcus; s__unclassified</text>
<text x="81.50" y="310.80" font-size="5.0" text-anchor="start" fill="#d05e1a" font-weight="bold" textLength="103.10" lengthAdjust="spacingAndGlyphs" >g__Muribaculaceae; s__uncultured_bacterium</text>
<text x="43.70" y="333.30" font-size="5.0" text-anchor="start" fill="#d05e1a" font-weight="bold" textLength="85.20" lengthAdjust="spacingAndGlyphs" >g__Lachnospiraceae_NK4A136_group</text>
<line x1="86.50" y1="334.50" x2="82.80" y2="342.00" stroke="#d05e1a" stroke-width="0.5" />
<line x1="133.80" y1="311.00" x2="134.20" y2="321.00" stroke="#d05e1a" stroke-width="0.5" />
<circle cx="48.80" cy="146.70" r="1.6" fill="#38393d" fill-opacity="0.88"/>
<circle cx="65.60" cy="146.70" r="1.6" fill="#38393d" fill-opacity="0.88"/>
<circle cx="73.70" cy="146.70" r="1.6" fill="#38393d" fill-opacity="0.88"/>
<circle cx="77.00" cy="146.70" r="1.6" fill="#38393d" fill-opacity="0.88"/>
<circle cx="161.20" cy="146.70" r="1.6" fill="#38393d" fill-opacity="0.88"/>
<circle cx="174.50" cy="146.70" r="1.6" fill="#38393d" fill-opacity="0.88"/>
<circle cx="177.50" cy="146.70" r="1.6" fill="#38393d" fill-opacity="0.88"/>
<circle cx="219.80" cy="146.70" r="1.6" fill="#38393d" fill-opacity="0.88"/>
<circle cx="234.30" cy="146.70" r="1.6" fill="#38393d" fill-opacity="0.88"/>
<circle cx="237.10" cy="146.70" r="1.6" fill="#38393d" fill-opacity="0.88"/>
<circle cx="239.90" cy="146.70" r="1.6" fill="#38393d" fill-opacity="0.88"/>
<circle cx="241.60" cy="146.70" r="1.6" fill="#38393d" fill-opacity="0.88"/>
<circle cx="87.80" cy="148.80" r="1.6" fill="#38393d" fill-opacity="0.88"/>
<circle cx="88.70" cy="158.00" r="1.6" fill="#38393d" fill-opacity="0.88"/>
<circle cx="93.20" cy="179.30" r="1.6" fill="#38393d" fill-opacity="0.88"/>
<circle cx="203.70" cy="149.50" r="1.6" fill="#38393d" fill-opacity="0.88"/>
<circle cx="207.20" cy="150.40" r="1.6" fill="#38393d" fill-opacity="0.88"/>
<circle cx="166.10" cy="158.30" r="1.6" fill="#38393d" fill-opacity="0.88"/>
<circle cx="164.80" cy="165.00" r="1.6" fill="#38393d" fill-opacity="0.88"/>
<circle cx="131.00" cy="173.50" r="1.6" fill="#38393d" fill-opacity="0.88"/>
<circle cx="189.30" cy="156.60" r="1.6" fill="#38393d" fill-opacity="0.88"/>
<circle cx="182.40" cy="167.90" r="1.6" fill="#38393d" fill-opacity="0.88"/>
<circle cx="215.30" cy="169.80" r="1.6" fill="#38393d" fill-opacity="0.88"/>
<circle cx="83.40" cy="185.80" r="1.6" fill="#38393d" fill-opacity="0.88"/>
<circle cx="97.60" cy="195.20" r="1.6" fill="#38393d" fill-opacity="0.88"/>
<circle cx="89.80" cy="198.30" r="1.6" fill="#38393d" fill-opacity="0.88"/>
<circle cx="95.20" cy="217.40" r="1.6" fill="#38393d" fill-opacity="0.88"/>
<circle cx="110.80" cy="200.20" r="1.6" fill="#38393d" fill-opacity="0.88"/>
<circle cx="131.60" cy="206.90" r="1.6" fill="#38393d" fill-opacity="0.88"/>
<circle cx="163.90" cy="215.10" r="1.6" fill="#38393d" fill-opacity="0.88"/>
<circle cx="166.60" cy="222.80" r="1.6" fill="#38393d" fill-opacity="0.88"/>
<circle cx="130.70" cy="224.80" r="1.6" fill="#38393d" fill-opacity="0.88"/>
<circle cx="187.60" cy="186.40" r="1.6" fill="#38393d" fill-opacity="0.88"/>
<circle cx="186.60" cy="211.10" r="1.6" fill="#38393d" fill-opacity="0.88"/>
<circle cx="190.30" cy="210.30" r="1.6" fill="#38393d" fill-opacity="0.88"/>
<circle cx="172.40" cy="216.70" r="1.6" fill="#38393d" fill-opacity="0.88"/>
<circle cx="97.60" cy="234.10" r="1.6" fill="#38393d" fill-opacity="0.88"/>
<circle cx="100.60" cy="247.90" r="1.6" fill="#38393d" fill-opacity="0.88"/>
<circle cx="71.00" cy="254.30" r="1.6" fill="#38393d" fill-opacity="0.88"/>
<circle cx="81.30" cy="253.60" r="1.6" fill="#38393d" fill-opacity="0.88"/>
<circle cx="85.10" cy="263.30" r="1.6" fill="#38393d" fill-opacity="0.88"/>
<circle cx="100.60" cy="261.60" r="1.6" fill="#38393d" fill-opacity="0.88"/>
<circle cx="158.10" cy="231.40" r="1.6" fill="#38393d" fill-opacity="0.88"/>
<circle cx="169.30" cy="248.90" r="1.6" fill="#38393d" fill-opacity="0.88"/>
<circle cx="118.80" cy="259.30" r="1.6" fill="#38393d" fill-opacity="0.88"/>
<circle cx="178.20" cy="228.30" r="1.6" fill="#38393d" fill-opacity="0.88"/>
<circle cx="198.10" cy="238.20" r="1.6" fill="#38393d" fill-opacity="0.88"/>
<circle cx="200.40" cy="239.10" r="1.6" fill="#38393d" fill-opacity="0.88"/>
<circle cx="202.00" cy="239.50" r="1.6" fill="#38393d" fill-opacity="0.88"/>
<circle cx="214.10" cy="236.60" r="1.6" fill="#38393d" fill-opacity="0.88"/>
<circle cx="193.60" cy="248.00" r="1.6" fill="#38393d" fill-opacity="0.88"/>
<circle cx="186.90" cy="252.70" r="1.6" fill="#38393d" fill-opacity="0.88"/>
<circle cx="195.90" cy="254.30" r="1.6" fill="#38393d" fill-opacity="0.88"/>
<circle cx="171.80" cy="255.70" r="1.6" fill="#38393d" fill-opacity="0.88"/>
<circle cx="189.60" cy="262.40" r="1.6" fill="#38393d" fill-opacity="0.88"/>
<circle cx="195.30" cy="264.70" r="1.6" fill="#38393d" fill-opacity="0.88"/>
<circle cx="194.30" cy="268.70" r="1.6" fill="#38393d" fill-opacity="0.88"/>
<circle cx="89.10" cy="279.10" r="1.6" fill="#38393d" fill-opacity="0.88"/>
<circle cx="93.50" cy="279.50" r="1.6" fill="#38393d" fill-opacity="0.88"/>
<circle cx="103.70" cy="278.00" r="1.6" fill="#38393d" fill-opacity="0.88"/>
<circle cx="107.70" cy="290.20" r="1.6" fill="#38393d" fill-opacity="0.88"/>
<circle cx="100.30" cy="296.20" r="1.6" fill="#38393d" fill-opacity="0.88"/>
<circle cx="97.60" cy="299.30" r="1.6" fill="#38393d" fill-opacity="0.88"/>
<circle cx="90.90" cy="304.30" r="1.6" fill="#38393d" fill-opacity="0.88"/>
<circle cx="99.50" cy="305.10" r="1.6" fill="#38393d" fill-opacity="0.88"/>
<circle cx="96.80" cy="312.80" r="1.6" fill="#38393d" fill-opacity="0.88"/>
<circle cx="104.00" cy="313.50" r="1.6" fill="#38393d" fill-opacity="0.88"/>
<circle cx="151.10" cy="277.80" r="1.6" fill="#38393d" fill-opacity="0.88"/>
<circle cx="167.30" cy="279.10" r="1.6" fill="#38393d" fill-opacity="0.88"/>
<circle cx="108.30" cy="290.20" r="1.6" fill="#38393d" fill-opacity="0.88"/>
<circle cx="122.20" cy="291.20" r="1.6" fill="#38393d" fill-opacity="0.88"/>
<circle cx="110.40" cy="302.40" r="1.6" fill="#38393d" fill-opacity="0.88"/>
<circle cx="162.20" cy="298.00" r="1.6" fill="#38393d" fill-opacity="0.88"/>
<circle cx="178.20" cy="281.80" r="1.6" fill="#38393d" fill-opacity="0.88"/>
<circle cx="189.60" cy="281.40" r="1.6" fill="#38393d" fill-opacity="0.88"/>
<circle cx="194.30" cy="283.80" r="1.6" fill="#38393d" fill-opacity="0.88"/>
<circle cx="176.20" cy="298.00" r="1.6" fill="#38393d" fill-opacity="0.88"/>
<circle cx="215.50" cy="297.20" r="1.6" fill="#38393d" fill-opacity="0.88"/>
<circle cx="189.60" cy="301.60" r="1.6" fill="#38393d" fill-opacity="0.88"/>
<circle cx="191.20" cy="301.00" r="1.6" fill="#38393d" fill-opacity="0.88"/>
<circle cx="196.30" cy="302.40" r="1.6" fill="#38393d" fill-opacity="0.88"/>
<circle cx="181.50" cy="311.40" r="1.6" fill="#38393d" fill-opacity="0.88"/>
<circle cx="166.00" cy="314.50" r="1.6" fill="#38393d" fill-opacity="0.88"/>
<circle cx="83.80" cy="317.40" r="1.6" fill="#38393d" fill-opacity="0.88"/>
<circle cx="91.20" cy="316.10" r="1.6" fill="#38393d" fill-opacity="0.88"/>
<circle cx="96.10" cy="316.10" r="1.6" fill="#38393d" fill-opacity="0.88"/>
<circle cx="104.60" cy="314.70" r="1.6" fill="#38393d" fill-opacity="0.88"/>
<circle cx="106.00" cy="316.10" r="1.6" fill="#38393d" fill-opacity="0.88"/>
<circle cx="102.90" cy="324.10" r="1.6" fill="#38393d" fill-opacity="0.88"/>
<circle cx="103.90" cy="341.20" r="1.6" fill="#38393d" fill-opacity="0.88"/>
<circle cx="109.70" cy="314.30" r="1.6" fill="#38393d" fill-opacity="0.88"/>
<circle cx="121.50" cy="322.80" r="1.6" fill="#38393d" fill-opacity="0.88"/>
<circle cx="152.50" cy="315.70" r="1.6" fill="#38393d" fill-opacity="0.88"/>
<circle cx="151.80" cy="319.70" r="1.6" fill="#38393d" fill-opacity="0.88"/>
<circle cx="166.20" cy="315.10" r="1.6" fill="#38393d" fill-opacity="0.88"/>
<circle cx="160.60" cy="325.50" r="1.6" fill="#38393d" fill-opacity="0.88"/>
<circle cx="154.50" cy="329.50" r="1.6" fill="#38393d" fill-opacity="0.88"/>
<circle cx="150.50" cy="335.80" r="1.6" fill="#38393d" fill-opacity="0.88"/>
<circle cx="160.60" cy="337.60" r="1.6" fill="#38393d" fill-opacity="0.88"/>
<circle cx="130.30" cy="338.30" r="1.6" fill="#38393d" fill-opacity="0.88"/>
<circle cx="134.70" cy="342.30" r="1.6" fill="#141416" fill-opacity="0.88"/>
<circle cx="155.20" cy="342.30" r="1.6" fill="#38393d" fill-opacity="0.88"/>
<circle cx="167.30" cy="341.60" r="1.6" fill="#38393d" fill-opacity="0.88"/>
<circle cx="166.60" cy="344.30" r="1.6" fill="#38393d" fill-opacity="0.88"/>
<circle cx="174.10" cy="324.80" r="1.6" fill="#38393d" fill-opacity="0.88"/>
<circle cx="185.30" cy="331.30" r="1.6" fill="#38393d" fill-opacity="0.88"/>
<circle cx="189.30" cy="334.50" r="1.6" fill="#38393d" fill-opacity="0.88"/>
<circle cx="190.70" cy="337.60" r="1.6" fill="#38393d" fill-opacity="0.88"/>
<circle cx="199.70" cy="332.60" r="1.6" fill="#38393d" fill-opacity="0.88"/>
<circle cx="180.20" cy="337.90" r="1.6" fill="#38393d" fill-opacity="0.88"/>
<circle cx="182.60" cy="337.90" r="1.6" fill="#38393d" fill-opacity="0.88"/>
<circle cx="171.40" cy="338.50" r="1.6" fill="#38393d" fill-opacity="0.88"/>
<circle cx="168.10" cy="340.70" r="1.6" fill="#38393d" fill-opacity="0.88"/>
<circle cx="169.70" cy="342.30" r="1.6" fill="#38393d" fill-opacity="0.88"/>
<circle cx="163.40" cy="347.70" r="1.6" fill="#38393d" fill-opacity="0.88"/>
<circle cx="165.40" cy="348.40" r="1.6" fill="#38393d" fill-opacity="0.88"/>
<circle cx="171.00" cy="349.00" r="1.6" fill="#38393d" fill-opacity="0.88"/>
<circle cx="168.10" cy="353.30" r="1.6" fill="#38393d" fill-opacity="0.88"/>
<circle cx="171.80" cy="354.40" r="1.6" fill="#38393d" fill-opacity="0.88"/>
<circle cx="161.30" cy="355.80" r="1.6" fill="#38393d" fill-opacity="0.88"/>
<circle cx="165.40" cy="359.10" r="1.6" fill="#38393d" fill-opacity="0.88"/>
<circle cx="169.40" cy="359.10" r="1.6" fill="#38393d" fill-opacity="0.88"/>
<circle cx="176.80" cy="359.50" r="1.6" fill="#38393d" fill-opacity="0.88"/>
<circle cx="139.00" cy="348.40" r="1.6" fill="#38393d" fill-opacity="0.88"/>
<circle cx="164.60" cy="348.40" r="1.6" fill="#38393d" fill-opacity="0.88"/>
<circle cx="151.80" cy="350.40" r="1.6" fill="#38393d" fill-opacity="0.88"/>
<circle cx="151.80" cy="357.10" r="1.6" fill="#38393d" fill-opacity="0.88"/>
<circle cx="161.20" cy="356.40" r="1.6" fill="#38393d" fill-opacity="0.88"/>
<circle cx="138.40" cy="358.70" r="1.6" fill="#141416" fill-opacity="0.88"/>
<circle cx="131.00" cy="345.30" r="1.6" fill="#38393d" fill-opacity="0.88"/>
<circle cx="104.00" cy="341.30" r="1.6" fill="#38393d" fill-opacity="0.88"/>
<circle cx="112.10" cy="340.90" r="1.6" fill="#38393d" fill-opacity="0.88"/>
<circle cx="115.70" cy="343.60" r="1.6" fill="#38393d" fill-opacity="0.88"/>
<circle cx="120.20" cy="342.70" r="1.6" fill="#38393d" fill-opacity="0.88"/>
<circle cx="106.20" cy="349.40" r="1.6" fill="#38393d" fill-opacity="0.88"/>
<circle cx="114.80" cy="347.60" r="1.6" fill="#38393d" fill-opacity="0.88"/>
<circle cx="118.80" cy="346.30" r="1.6" fill="#38393d" fill-opacity="0.88"/>
<circle cx="120.60" cy="349.00" r="1.6" fill="#38393d" fill-opacity="0.88"/>
<circle cx="124.70" cy="349.00" r="1.6" fill="#38393d" fill-opacity="0.88"/>
<circle cx="131.00" cy="344.90" r="1.6" fill="#38393d" fill-opacity="0.88"/>
<circle cx="102.60" cy="353.50" r="1.6" fill="#38393d" fill-opacity="0.88"/>
<circle cx="95.90" cy="355.30" r="1.6" fill="#38393d" fill-opacity="0.88"/>
<circle cx="99.50" cy="358.00" r="1.6" fill="#38393d" fill-opacity="0.88"/>
<circle cx="108.00" cy="358.90" r="1.6" fill="#38393d" fill-opacity="0.88"/>
<circle cx="111.60" cy="357.10" r="1.6" fill="#38393d" fill-opacity="0.88"/>
<circle cx="115.70" cy="358.40" r="1.6" fill="#38393d" fill-opacity="0.88"/>
<circle cx="121.50" cy="356.60" r="1.6" fill="#38393d" fill-opacity="0.88"/>
<circle cx="122.90" cy="359.30" r="1.6" fill="#38393d" fill-opacity="0.88"/>
<circle cx="111.20" cy="361.60" r="1.6" fill="#38393d" fill-opacity="0.88"/>
<circle cx="104.00" cy="364.30" r="1.6" fill="#38393d" fill-opacity="0.88"/>
<circle cx="108.50" cy="364.30" r="1.6" fill="#38393d" fill-opacity="0.88"/>
<circle cx="118.40" cy="362.00" r="1.6" fill="#38393d" fill-opacity="0.88"/>
<circle cx="117.00" cy="366.10" r="1.6" fill="#38393d" fill-opacity="0.88"/>
<circle cx="121.50" cy="363.40" r="1.6" fill="#38393d" fill-opacity="0.88"/>
<circle cx="123.80" cy="364.30" r="1.6" fill="#38393d" fill-opacity="0.88"/>
<circle cx="120.20" cy="367.00" r="1.6" fill="#38393d" fill-opacity="0.88"/>
<circle cx="129.60" cy="361.10" r="1.6" fill="#141416" fill-opacity="0.88"/>
<circle cx="125.60" cy="368.80" r="1.6" fill="#38393d" fill-opacity="0.88"/>
<circle cx="120.60" cy="371.90" r="1.6" fill="#38393d" fill-opacity="0.88"/>
<circle cx="123.80" cy="373.30" r="1.6" fill="#38393d" fill-opacity="0.88"/>
<circle cx="126.50" cy="371.50" r="1.6" fill="#38393d" fill-opacity="0.88"/>
<circle cx="129.20" cy="374.20" r="1.6" fill="#38393d" fill-opacity="0.88"/>
<circle cx="131.90" cy="376.00" r="1.6" fill="#38393d" fill-opacity="0.88"/>
<circle cx="133.70" cy="368.80" r="1.6" fill="#38393d" fill-opacity="0.88"/>
<circle cx="104.00" cy="361.00" r="1.6" fill="#38393d" fill-opacity="0.88"/>
<circle cx="106.80" cy="362.40" r="1.6" fill="#38393d" fill-opacity="0.88"/>
<circle cx="103.40" cy="364.70" r="1.6" fill="#38393d" fill-opacity="0.88"/>
<circle cx="107.50" cy="385.30" r="1.6" fill="#38393d" fill-opacity="0.88"/>
<circle cx="108.40" cy="385.80" r="1.6" fill="#38393d" fill-opacity="0.88"/>
<circle cx="126.80" cy="368.60" r="1.6" fill="#141416" fill-opacity="0.88"/>
<circle cx="130.40" cy="370.40" r="1.6" fill="#141416" fill-opacity="0.88"/>
<circle cx="133.50" cy="369.00" r="1.6" fill="#141416" fill-opacity="0.88"/>
<circle cx="137.60" cy="366.30" r="1.6" fill="#38393d" fill-opacity="0.88"/>
<circle cx="136.70" cy="374.00" r="1.6" fill="#141416" fill-opacity="0.88"/>
<circle cx="126.80" cy="374.90" r="1.6" fill="#141416" fill-opacity="0.88"/>
<circle cx="130.40" cy="375.80" r="1.6" fill="#141416" fill-opacity="0.88"/>
<circle cx="133.50" cy="377.60" r="1.6" fill="#141416" fill-opacity="0.88"/>
<circle cx="139.80" cy="375.80" r="1.6" fill="#141416" fill-opacity="0.88"/>
<circle cx="142.10" cy="377.60" r="1.6" fill="#141416" fill-opacity="0.88"/>
<circle cx="146.60" cy="374.00" r="1.6" fill="#38393d" fill-opacity="0.88"/>
<circle cx="146.10" cy="381.20" r="1.6" fill="#141416" fill-opacity="0.88"/>
<circle cx="132.20" cy="380.70" r="1.6" fill="#141416" fill-opacity="0.88"/>
<circle cx="136.20" cy="382.50" r="1.6" fill="#141416" fill-opacity="0.88"/>
<circle cx="138.90" cy="380.30" r="1.6" fill="#141416" fill-opacity="0.88"/>
<circle cx="141.20" cy="382.50" r="1.6" fill="#141416" fill-opacity="0.88"/>
<circle cx="134.90" cy="385.20" r="1.6" fill="#141416" fill-opacity="0.88"/>
<circle cx="138.00" cy="387.00" r="1.6" fill="#141416" fill-opacity="0.88"/>
<circle cx="149.30" cy="384.30" r="1.6" fill="#141416" fill-opacity="0.88"/>
<circle cx="151.10" cy="381.20" r="1.6" fill="#141416" fill-opacity="0.88"/>
<circle cx="152.00" cy="377.60" r="1.6" fill="#38393d" fill-opacity="0.88"/>
<circle cx="139.80" cy="389.30" r="1.6" fill="#141416" fill-opacity="0.88"/>
<circle cx="142.10" cy="391.50" r="1.6" fill="#141416" fill-opacity="0.88"/>
<circle cx="141.60" cy="394.20" r="1.6" fill="#141416" fill-opacity="0.88"/>
<circle cx="150.60" cy="387.50" r="1.6" fill="#38393d" fill-opacity="0.88"/>
<circle cx="151.10" cy="396.40" r="1.6" fill="#38393d" fill-opacity="0.88"/>
<circle cx="144.30" cy="399.00" r="1.6" fill="#141416" fill-opacity="0.88"/>
<circle cx="146.60" cy="398.20" r="1.6" fill="#141416" fill-opacity="0.88"/>
<circle cx="152.90" cy="370.40" r="1.6" fill="#38393d" fill-opacity="0.88"/>
<circle cx="146.60" cy="376.70" r="1.6" fill="#141416" fill-opacity="0.88"/>
<circle cx="145.90" cy="398.80" r="1.6" fill="#141416" fill-opacity="0.88"/>
<circle cx="156.60" cy="395.20" r="1.6" fill="#38393d" fill-opacity="0.88"/>
<circle cx="151.30" cy="397.50" r="1.6" fill="#38393d" fill-opacity="0.88"/>
<circle cx="152.50" cy="351.10" r="1.6" fill="#38393d" fill-opacity="0.88"/>
<circle cx="161.50" cy="355.60" r="1.6" fill="#38393d" fill-opacity="0.88"/>
<circle cx="168.20" cy="353.40" r="1.6" fill="#38393d" fill-opacity="0.88"/>
<circle cx="171.60" cy="354.50" r="1.6" fill="#38393d" fill-opacity="0.88"/>
<circle cx="151.90" cy="357.30" r="1.6" fill="#38393d" fill-opacity="0.88"/>
<circle cx="154.70" cy="360.70" r="1.6" fill="#141416" fill-opacity="0.88"/>
<circle cx="158.70" cy="361.20" r="1.6" fill="#141416" fill-opacity="0.88"/>
<circle cx="164.90" cy="359.60" r="1.6" fill="#141416" fill-opacity="0.88"/>
<circle cx="167.10" cy="360.70" r="1.6" fill="#141416" fill-opacity="0.88"/>
<circle cx="169.30" cy="360.10" r="1.6" fill="#141416" fill-opacity="0.88"/>
<circle cx="162.60" cy="364.00" r="1.6" fill="#141416" fill-opacity="0.88"/>
<circle cx="165.40" cy="364.00" r="1.6" fill="#141416" fill-opacity="0.88"/>
<circle cx="169.30" cy="362.90" r="1.6" fill="#141416" fill-opacity="0.88"/>
<circle cx="172.20" cy="362.90" r="1.6" fill="#38393d" fill-opacity="0.88"/>
<circle cx="176.70" cy="360.70" r="1.6" fill="#38393d" fill-opacity="0.88"/>
<circle cx="149.10" cy="363.50" r="1.6" fill="#38393d" fill-opacity="0.88"/>
<circle cx="158.10" cy="366.90" r="1.6" fill="#141416" fill-opacity="0.88"/>
<circle cx="153.10" cy="370.80" r="1.6" fill="#141416" fill-opacity="0.88"/>
<circle cx="155.90" cy="370.80" r="1.6" fill="#141416" fill-opacity="0.88"/>
<circle cx="154.70" cy="372.50" r="1.6" fill="#141416" fill-opacity="0.88"/>
<circle cx="157.60" cy="372.50" r="1.6" fill="#141416" fill-opacity="0.88"/>
<circle cx="160.40" cy="371.90" r="1.6" fill="#141416" fill-opacity="0.88"/>
<circle cx="156.40" cy="374.20" r="1.6" fill="#141416" fill-opacity="0.88"/>
<circle cx="159.20" cy="375.80" r="1.6" fill="#141416" fill-opacity="0.88"/>
<circle cx="166.50" cy="374.20" r="1.6" fill="#38393d" fill-opacity="0.88"/>
<circle cx="149.10" cy="377.00" r="1.6" fill="#141416" fill-opacity="0.88"/>
<circle cx="152.50" cy="378.70" r="1.6" fill="#141416" fill-opacity="0.88"/>
<circle cx="163.20" cy="378.70" r="1.6" fill="#38393d" fill-opacity="0.88"/>
<circle cx="150.20" cy="380.30" r="1.6" fill="#141416" fill-opacity="0.88"/>
<circle cx="158.10" cy="382.00" r="1.6" fill="#38393d" fill-opacity="0.88"/>
<circle cx="148.60" cy="382.60" r="1.6" fill="#141416" fill-opacity="0.88"/>
<circle cx="153.10" cy="384.30" r="1.6" fill="#38393d" fill-opacity="0.88"/>
<circle cx="151.40" cy="396.60" r="1.6" fill="#38393d" fill-opacity="0.88"/>
<circle cx="156.40" cy="395.50" r="1.6" fill="#38393d" fill-opacity="0.88"/>
<circle cx="130.42" cy="378.13" r="1.6" fill="#141416" fill-opacity="0.88"/>
<circle cx="124.22" cy="371.89" r="1.6" fill="#141416" fill-opacity="0.88"/>
<circle cx="137.25" cy="382.09" r="1.6" fill="#141416" fill-opacity="0.88"/>
<circle cx="135.64" cy="382.12" r="1.6" fill="#141416" fill-opacity="0.88"/>
<circle cx="126.53" cy="368.44" r="1.6" fill="#141416" fill-opacity="0.88"/>
<circle cx="126.69" cy="370.70" r="1.6" fill="#141416" fill-opacity="0.88"/>
<circle cx="133.86" cy="379.85" r="1.6" fill="#141416" fill-opacity="0.88"/>
<circle cx="130.83" cy="373.28" r="1.6" fill="#141416" fill-opacity="0.88"/>
<circle cx="136.30" cy="386.98" r="1.6" fill="#141416" fill-opacity="0.88"/>
<circle cx="134.58" cy="378.02" r="1.6" fill="#141416" fill-opacity="0.88"/>
<circle cx="142.66" cy="397.47" r="1.6" fill="#141416" fill-opacity="0.88"/>
<circle cx="130.22" cy="376.76" r="1.6" fill="#141416" fill-opacity="0.88"/>
<circle cx="126.90" cy="372.94" r="1.6" fill="#141416" fill-opacity="0.88"/>
<circle cx="141.79" cy="390.99" r="1.6" fill="#141416" fill-opacity="0.88"/>
<circle cx="131.48" cy="370.84" r="1.6" fill="#141416" fill-opacity="0.88"/>
<circle cx="134.60" cy="376.90" r="1.6" fill="#141416" fill-opacity="0.88"/>
<circle cx="136.40" cy="383.32" r="1.6" fill="#141416" fill-opacity="0.88"/>
<circle cx="129.26" cy="373.78" r="1.6" fill="#141416" fill-opacity="0.88"/>
<circle cx="141.54" cy="385.09" r="1.6" fill="#141416" fill-opacity="0.88"/>
<circle cx="137.11" cy="384.44" r="1.6" fill="#141416" fill-opacity="0.88"/>
<circle cx="136.07" cy="379.34" r="1.6" fill="#141416" fill-opacity="0.88"/>
<circle cx="136.97" cy="389.65" r="1.6" fill="#141416" fill-opacity="0.88"/>
<circle cx="132.57" cy="372.80" r="1.6" fill="#141416" fill-opacity="0.88"/>
<circle cx="145.36" cy="390.73" r="1.6" fill="#141416" fill-opacity="0.88"/>
<circle cx="142.38" cy="386.61" r="1.6" fill="#141416" fill-opacity="0.88"/>
<circle cx="122.11" cy="375.66" r="1.6" fill="#141416" fill-opacity="0.88"/>
<circle cx="134.15" cy="379.33" r="1.6" fill="#141416" fill-opacity="0.88"/>
<circle cx="136.91" cy="380.26" r="1.6" fill="#141416" fill-opacity="0.88"/>
<circle cx="127.55" cy="367.69" r="1.6" fill="#141416" fill-opacity="0.88"/>
<circle cx="140.59" cy="381.04" r="1.6" fill="#141416" fill-opacity="0.88"/>
<circle cx="145.47" cy="390.65" r="1.6" fill="#141416" fill-opacity="0.88"/>
<circle cx="135.21" cy="386.38" r="1.6" fill="#141416" fill-opacity="0.88"/>
<circle cx="141.47" cy="380.63" r="1.6" fill="#141416" fill-opacity="0.88"/>
<circle cx="144.73" cy="394.36" r="1.6" fill="#141416" fill-opacity="0.88"/>
<circle cx="135.80" cy="380.50" r="1.6" fill="#141416" fill-opacity="0.88"/>
<circle cx="141.04" cy="386.44" r="1.6" fill="#141416" fill-opacity="0.88"/>
<circle cx="135.50" cy="388.52" r="1.6" fill="#141416" fill-opacity="0.88"/>
<circle cx="131.42" cy="375.55" r="1.6" fill="#141416" fill-opacity="0.88"/>
<circle cx="133.70" cy="378.24" r="1.6" fill="#141416" fill-opacity="0.88"/>
<circle cx="135.53" cy="380.16" r="1.6" fill="#141416" fill-opacity="0.88"/>
<circle cx="128.18" cy="372.96" r="1.6" fill="#141416" fill-opacity="0.88"/>
<circle cx="141.43" cy="389.13" r="1.6" fill="#141416" fill-opacity="0.88"/>
<circle cx="127.82" cy="371.52" r="1.6" fill="#141416" fill-opacity="0.88"/>
<circle cx="142.16" cy="393.16" r="1.6" fill="#141416" fill-opacity="0.88"/>
<circle cx="129.19" cy="368.21" r="1.6" fill="#141416" fill-opacity="0.88"/>
<circle cx="143.64" cy="392.50" r="1.6" fill="#141416" fill-opacity="0.88"/>
<circle cx="141.96" cy="390.99" r="1.6" fill="#141416" fill-opacity="0.88"/>
<circle cx="135.36" cy="378.21" r="1.6" fill="#141416" fill-opacity="0.88"/>
<circle cx="129.11" cy="380.77" r="1.6" fill="#141416" fill-opacity="0.88"/>
<circle cx="131.69" cy="369.33" r="1.6" fill="#141416" fill-opacity="0.88"/>
<circle cx="128.71" cy="372.89" r="1.6" fill="#141416" fill-opacity="0.88"/>
<circle cx="134.21" cy="382.28" r="1.6" fill="#141416" fill-opacity="0.88"/>
<circle cx="137.98" cy="383.89" r="1.6" fill="#141416" fill-opacity="0.88"/>
<circle cx="134.03" cy="379.46" r="1.6" fill="#141416" fill-opacity="0.88"/>
<circle cx="137.68" cy="374.25" r="1.6" fill="#141416" fill-opacity="0.88"/>
<circle cx="142.21" cy="385.00" r="1.6" fill="#141416" fill-opacity="0.88"/>
<circle cx="138.58" cy="380.10" r="1.6" fill="#141416" fill-opacity="0.88"/>
<circle cx="128.23" cy="367.80" r="1.6" fill="#141416" fill-opacity="0.88"/>
<circle cx="144.02" cy="392.91" r="1.6" fill="#141416" fill-opacity="0.88"/>
<circle cx="146.59" cy="386.26" r="1.6" fill="#141416" fill-opacity="0.88"/>
<circle cx="134.39" cy="377.98" r="1.6" fill="#141416" fill-opacity="0.88"/>
<circle cx="138.40" cy="385.58" r="1.6" fill="#141416" fill-opacity="0.88"/>
<circle cx="125.11" cy="370.71" r="1.6" fill="#141416" fill-opacity="0.88"/>
<circle cx="128.00" cy="372.84" r="1.6" fill="#141416" fill-opacity="0.88"/>
<circle cx="132.44" cy="377.22" r="1.6" fill="#141416" fill-opacity="0.88"/>
<circle cx="151.22" cy="381.44" r="1.6" fill="#141416" fill-opacity="0.88"/>
<circle cx="150.52" cy="382.14" r="1.6" fill="#141416" fill-opacity="0.88"/>
<circle cx="157.34" cy="369.30" r="1.6" fill="#141416" fill-opacity="0.88"/>
<circle cx="155.82" cy="373.99" r="1.6" fill="#141416" fill-opacity="0.88"/>
<circle cx="154.00" cy="378.67" r="1.6" fill="#141416" fill-opacity="0.88"/>
<circle cx="155.69" cy="379.11" r="1.6" fill="#141416" fill-opacity="0.88"/>
<circle cx="160.64" cy="368.39" r="1.6" fill="#141416" fill-opacity="0.88"/>
<circle cx="152.89" cy="375.68" r="1.6" fill="#141416" fill-opacity="0.88"/>
<circle cx="150.90" cy="382.30" r="1.6" fill="#141416" fill-opacity="0.88"/>
<circle cx="152.39" cy="378.01" r="1.6" fill="#141416" fill-opacity="0.88"/>
<circle cx="155.02" cy="383.01" r="1.6" fill="#141416" fill-opacity="0.88"/>
<circle cx="152.51" cy="384.70" r="1.6" fill="#141416" fill-opacity="0.88"/>
<circle cx="150.43" cy="381.16" r="1.6" fill="#141416" fill-opacity="0.88"/>
<circle cx="156.75" cy="375.90" r="1.6" fill="#141416" fill-opacity="0.88"/>
<circle cx="158.24" cy="367.56" r="1.6" fill="#141416" fill-opacity="0.88"/>
<circle cx="156.39" cy="369.08" r="1.6" fill="#141416" fill-opacity="0.88"/>
<circle cx="151.47" cy="377.08" r="1.6" fill="#141416" fill-opacity="0.88"/>
<circle cx="151.67" cy="381.32" r="1.6" fill="#141416" fill-opacity="0.88"/>
<circle cx="225.00" cy="146.70" r="1.6" fill="#4d6a48" fill-opacity="0.88"/>
<circle cx="227.00" cy="146.70" r="1.6" fill="#4d6a48" fill-opacity="0.88"/>
<circle cx="168.60" cy="209.30" r="1.6" fill="#d2702a" fill-opacity="0.88"/>
<circle cx="201.50" cy="185.80" r="1.6" fill="#4d6a48" fill-opacity="0.88"/>
<circle cx="195.00" cy="210.70" r="1.6" fill="#4d6a48" fill-opacity="0.88"/>
<circle cx="166.30" cy="265.80" r="1.6" fill="#d2702a" fill-opacity="0.88"/>
<circle cx="131.60" cy="279.80" r="1.6" fill="#d2702a" fill-opacity="0.88"/>
<circle cx="134.30" cy="281.80" r="1.6" fill="#d2702a" fill-opacity="0.88"/>
<circle cx="166.00" cy="277.80" r="1.6" fill="#8a5a3a" fill-opacity="0.88"/>
<circle cx="168.70" cy="311.40" r="1.6" fill="#d2702a" fill-opacity="0.88"/>
<circle cx="82.40" cy="343.40" r="1.6" fill="#d2702a" fill-opacity="0.88"/>
<circle cx="134.30" cy="322.40" r="1.6" fill="#d2702a" fill-opacity="0.88"/>
<circle cx="161.20" cy="343.00" r="1.6" fill="#d2702a" fill-opacity="0.88"/>
<circle cx="108.50" cy="346.30" r="1.6" fill="#a83a32" fill-opacity="0.88"/>
<circle cx="110.70" cy="347.60" r="1.6" fill="#a83a32" fill-opacity="0.88"/>
<circle cx="117.50" cy="350.80" r="1.6" fill="#a83a32" fill-opacity="0.88"/>
<circle cx="117.00" cy="353.50" r="1.6" fill="#a83a32" fill-opacity="0.88"/>
<circle cx="105.80" cy="357.50" r="1.6" fill="#8a5a3a" fill-opacity="0.88"/>
<circle cx="102.20" cy="361.60" r="1.6" fill="#8a5a3a" fill-opacity="0.88"/>
<circle cx="131.00" cy="366.10" r="1.6" fill="#d2702a" fill-opacity="0.88"/>
<circle cx="102.70" cy="358.40" r="1.6" fill="#d2702a" fill-opacity="0.88"/>
<circle cx="141.60" cy="371.30" r="1.6" fill="#8a5a3a" fill-opacity="0.88"/>
<circle cx="144.30" cy="387.50" r="1.6" fill="#a83a32" fill-opacity="0.88"/>
<circle cx="146.60" cy="387.00" r="1.6" fill="#a83a32" fill-opacity="0.88"/>
<circle cx="145.70" cy="393.30" r="1.6" fill="#4d6a48" fill-opacity="0.88"/>
<circle cx="129.70" cy="361.00" r="1.6" fill="#d2702a" fill-opacity="0.88"/>
<circle cx="131.00" cy="365.80" r="1.6" fill="#d2702a" fill-opacity="0.88"/>
<circle cx="141.80" cy="371.90" r="1.6" fill="#d2702a" fill-opacity="0.88"/>
<circle cx="150.20" cy="387.60" r="1.6" fill="#a83a32" fill-opacity="0.88"/>
<circle cx="213.60" cy="393.60" r="2.0" fill="#1f8a47"/>
<text x="219.00" y="395.80" font-size="6.3" text-anchor="start" fill="#333" textLength="24.20" lengthAdjust="spacingAndGlyphs" >CPX-351</text>
<circle cx="213.60" cy="403.00" r="2.0" fill="#d9442a"/>
<text x="219.00" y="405.20" font-size="6.3" text-anchor="start" fill="#333" textLength="18.00" lengthAdjust="spacingAndGlyphs" >"7+3"</text>
<line x1="287.50" y1="210.40" x2="498.50" y2="210.40" stroke="#cfcfcf" stroke-width="0.7" />
<line x1="287.50" y1="277.40" x2="498.50" y2="277.40" stroke="#cfcfcf" stroke-width="0.7" />
<line x1="287.50" y1="306.30" x2="498.50" y2="306.30" stroke="#cfcfcf" stroke-width="0.7" />
<line x1="381.40" y1="132.50" x2="381.40" y2="412.50" stroke="#cfcfcf" stroke-width="0.7" />
<line x1="403.00" y1="132.50" x2="403.00" y2="412.50" stroke="#cfcfcf" stroke-width="0.7" />
<line x1="392.00" y1="132.50" x2="392.00" y2="412.50" stroke="#efefef" stroke-width="0.7" />
<text x="392.90" y="127.60" font-size="9.0" text-anchor="middle" fill="#222" textLength="66.60" lengthAdjust="spacingAndGlyphs" >3-IAld correlation</text>
<line x1="284.50" y1="210.40" x2="287.50" y2="210.40" stroke="#222" stroke-width="0.8" />
<text x="281.50" y="212.60" font-size="6.3" text-anchor="end" fill="#333" >2</text>
<line x1="284.50" y1="306.30" x2="287.50" y2="306.30" stroke="#222" stroke-width="0.8" />
<text x="281.50" y="308.50" font-size="6.3" text-anchor="end" fill="#333" >1</text>
<line x1="284.50" y1="402.00" x2="287.50" y2="402.00" stroke="#222" stroke-width="0.8" />
<text x="281.50" y="404.20" font-size="6.3" text-anchor="end" fill="#333" >0</text>
<line x1="337.70" y1="412.50" x2="337.70" y2="415.30" stroke="#222" stroke-width="0.8" />
<text x="337.70" y="424.20" font-size="6.3" text-anchor="middle" fill="#333" textLength="12.00" lengthAdjust="spacingAndGlyphs" >-5.0</text>
<line x1="392.20" y1="412.50" x2="392.20" y2="415.30" stroke="#222" stroke-width="0.8" />
<text x="392.20" y="424.20" font-size="6.3" text-anchor="middle" fill="#333" textLength="12.00" lengthAdjust="spacingAndGlyphs" >0.0</text>
<line x1="446.10" y1="412.50" x2="446.10" y2="415.30" stroke="#222" stroke-width="0.8" />
<text x="446.10" y="424.20" font-size="6.3" text-anchor="middle" fill="#333" textLength="12.00" lengthAdjust="spacingAndGlyphs" >5.0</text>
<text x="393.00" y="435.50" font-size="7.6" text-anchor="middle" fill="#333" textLength="54.60" lengthAdjust="spacingAndGlyphs" >log2 (fold change)</text>
<text x="272.70" y="273.60" font-size="7.2" text-anchor="middle" fill="#333" textLength="50.50" lengthAdjust="spacingAndGlyphs" transform="rotate(-90 272.70 273.60)" >-Log10 (P-value)</text>
<text x="291.50" y="141.20" font-size="5.0" text-anchor="start" fill="#3f7230" font-weight="bold" textLength="128.50" lengthAdjust="spacingAndGlyphs" >g__Prevotellaceae_NK3B31_group; g__Bacteroidales; s__uncultured</text>
<text x="395.00" y="141.40" font-size="5.0" text-anchor="start" fill="#3f7230" font-weight="bold" textLength="99.70" lengthAdjust="spacingAndGlyphs" >g__Bacteroidales; g__A2; s__uncultured_bacterium</text>
<line x1="468.00" y1="142.50" x2="473.50" y2="147.00" stroke="#3f7230" stroke-width="0.5" />
<text x="422.20" y="206.80" font-size="5.0" text-anchor="start" fill="#5a7550" textLength="48.60" lengthAdjust="spacingAndGlyphs" >g__Lachnoclostridium</text>
<text x="336.30" y="195.10" font-size="5.0" text-anchor="start" fill="#cc4433" textLength="109.10" lengthAdjust="spacingAndGlyphs" >g__Muribaculaceae; s__uncultured_Bacteroidales</text>
<text x="291.30" y="209.00" font-size="5.0" text-anchor="start" fill="#cc4433" textLength="108.90" lengthAdjust="spacingAndGlyphs" >g__Muribaculaceae; s__uncultured_Bacteroidales</text>
<text x="336.30" y="220.10" font-size="5.0" text-anchor="start" fill="#cc4433" textLength="89.70" lengthAdjust="spacingAndGlyphs" >g__uncultured; s__uncultured_bacterium</text>
<line x1="386.00" y1="196.00" x2="379.00" y2="207.00" stroke="#cc4433" stroke-width="0.5" />
<line x1="370.00" y1="210.00" x2="378.50" y2="224.50" stroke="#cc4433" stroke-width="0.5" />
<text x="348.40" y="271.30" font-size="5.0" text-anchor="start" fill="#cc4433" textLength="33.10" lengthAdjust="spacingAndGlyphs" >g__uncultured</text>
<text x="386.50" y="273.00" font-size="5.0" text-anchor="start" fill="#cc4433" textLength="42.60" lengthAdjust="spacingAndGlyphs" >g__Muribaculaceae</text>
<text x="348.00" y="290.40" font-size="5.0" text-anchor="start" fill="#cc4433" textLength="90.50" lengthAdjust="spacingAndGlyphs" >g__Muribaculaceae; s__uncultured_bacterium</text>
<text x="392.30" y="293.20" font-size="5.0" text-anchor="start" fill="#cc4433" textLength="101.90" lengthAdjust="spacingAndGlyphs" >g__Muribaculaceae; s__uncultured_Barnesiella</text>
<line x1="413.50" y1="277.50" x2="421.00" y2="288.00" stroke="#cc4433" stroke-width="0.5" />
<text x="313.30" y="309.70" font-size="5.0" text-anchor="start" fill="#cc4433" textLength="82.70" lengthAdjust="spacingAndGlyphs" >g__Lachnospiraceae_NK4A136_group</text>
<text x="394.20" y="320.40" font-size="5.0" text-anchor="start" fill="#cc4433" textLength="98.10" lengthAdjust="spacingAndGlyphs" >g__Muribaculaceae; s__uncultured_bacterium</text>
<text x="310.80" y="332.40" font-size="5.0" text-anchor="start" fill="#cc4433" textLength="71.90" lengthAdjust="spacingAndGlyphs" >g__uncultured; s__uncultured_bacterium</text>
<text x="365.40" y="331.80" font-size="5.0" text-anchor="start" fill="#cc4433" textLength="36.60" lengthAdjust="spacingAndGlyphs" >g__Muribaculaceae</text>
<circle cx="296.80" cy="146.70" r="1.6" fill="#3d4a40" fill-opacity="0.85"/>
<circle cx="313.60" cy="146.70" r="1.6" fill="#3d4a40" fill-opacity="0.85"/>
<circle cx="321.70" cy="146.70" r="1.6" fill="#3d4a40" fill-opacity="0.85"/>
<circle cx="325.00" cy="146.70" r="1.6" fill="#3d4a40" fill-opacity="0.85"/>
<circle cx="409.20" cy="146.70" r="1.6" fill="#3d4a40" fill-opacity="0.85"/>
<circle cx="422.50" cy="146.70" r="1.6" fill="#3d4a40" fill-opacity="0.85"/>
<circle cx="425.50" cy="146.70" r="1.6" fill="#3d4a40" fill-opacity="0.85"/>
<circle cx="467.80" cy="146.70" r="1.6" fill="#3d4a40" fill-opacity="0.85"/>
<circle cx="482.30" cy="146.70" r="1.6" fill="#3d4a40" fill-opacity="0.85"/>
<circle cx="485.10" cy="146.70" r="1.6" fill="#3d4a40" fill-opacity="0.85"/>
<circle cx="487.90" cy="146.70" r="1.6" fill="#3d4a40" fill-opacity="0.85"/>
<circle cx="489.60" cy="146.70" r="1.6" fill="#3d4a40" fill-opacity="0.85"/>
<circle cx="335.80" cy="148.80" r="1.6" fill="#3d4a40" fill-opacity="0.85"/>
<circle cx="336.70" cy="158.00" r="1.6" fill="#3d4a40" fill-opacity="0.85"/>
<circle cx="341.20" cy="179.30" r="1.6" fill="#3d4a40" fill-opacity="0.85"/>
<circle cx="451.70" cy="149.50" r="1.6" fill="#3d4a40" fill-opacity="0.85"/>
<circle cx="455.20" cy="150.40" r="1.6" fill="#3d4a40" fill-opacity="0.85"/>
<circle cx="414.10" cy="158.30" r="1.6" fill="#3d4a40" fill-opacity="0.85"/>
<circle cx="412.80" cy="165.00" r="1.6" fill="#3d4a40" fill-opacity="0.85"/>
<circle cx="379.00" cy="173.50" r="1.6" fill="#3d4a40" fill-opacity="0.85"/>
<circle cx="437.30" cy="156.60" r="1.6" fill="#3d4a40" fill-opacity="0.85"/>
<circle cx="430.40" cy="167.90" r="1.6" fill="#3d4a40" fill-opacity="0.85"/>
<circle cx="463.30" cy="169.80" r="1.6" fill="#3d4a40" fill-opacity="0.85"/>
<circle cx="331.40" cy="185.80" r="1.6" fill="#3d4a40" fill-opacity="0.85"/>
<circle cx="345.60" cy="195.20" r="1.6" fill="#3d4a40" fill-opacity="0.85"/>
<circle cx="337.80" cy="198.30" r="1.6" fill="#3d4a40" fill-opacity="0.85"/>
<circle cx="343.20" cy="217.40" r="1.6" fill="#3d4a40" fill-opacity="0.85"/>
<circle cx="358.80" cy="200.20" r="1.6" fill="#3d4a40" fill-opacity="0.85"/>
<circle cx="379.60" cy="206.90" r="1.6" fill="#3d4a40" fill-opacity="0.85"/>
<circle cx="411.90" cy="215.10" r="1.6" fill="#3d4a40" fill-opacity="0.85"/>
<circle cx="414.60" cy="222.80" r="1.6" fill="#3d4a40" fill-opacity="0.85"/>
<circle cx="378.70" cy="224.80" r="1.6" fill="#3d4a40" fill-opacity="0.85"/>
<circle cx="435.60" cy="186.40" r="1.6" fill="#3d4a40" fill-opacity="0.85"/>
<circle cx="434.60" cy="211.10" r="1.6" fill="#3d4a40" fill-opacity="0.85"/>
<circle cx="438.30" cy="210.30" r="1.6" fill="#3d4a40" fill-opacity="0.85"/>
<circle cx="420.40" cy="216.70" r="1.6" fill="#3d4a40" fill-opacity="0.85"/>
<circle cx="345.60" cy="234.10" r="1.6" fill="#3d4a40" fill-opacity="0.85"/>
<circle cx="348.60" cy="247.90" r="1.6" fill="#3d4a40" fill-opacity="0.85"/>
<circle cx="319.00" cy="254.30" r="1.6" fill="#3d4a40" fill-opacity="0.85"/>
<circle cx="329.30" cy="253.60" r="1.6" fill="#3d4a40" fill-opacity="0.85"/>
<circle cx="333.10" cy="263.30" r="1.6" fill="#3d4a40" fill-opacity="0.85"/>
<circle cx="348.60" cy="261.60" r="1.6" fill="#3d4a40" fill-opacity="0.85"/>
<circle cx="406.10" cy="231.40" r="1.6" fill="#3d4a40" fill-opacity="0.85"/>
<circle cx="417.30" cy="248.90" r="1.6" fill="#3d4a40" fill-opacity="0.85"/>
<circle cx="366.80" cy="259.30" r="1.6" fill="#3d4a40" fill-opacity="0.85"/>
<circle cx="426.20" cy="228.30" r="1.6" fill="#3d4a40" fill-opacity="0.85"/>
<circle cx="446.10" cy="238.20" r="1.6" fill="#3d4a40" fill-opacity="0.85"/>
<circle cx="448.40" cy="239.10" r="1.6" fill="#3d4a40" fill-opacity="0.85"/>
<circle cx="450.00" cy="239.50" r="1.6" fill="#3d4a40" fill-opacity="0.85"/>
<circle cx="462.10" cy="236.60" r="1.6" fill="#3d4a40" fill-opacity="0.85"/>
<circle cx="441.60" cy="248.00" r="1.6" fill="#3d4a40" fill-opacity="0.85"/>
<circle cx="434.90" cy="252.70" r="1.6" fill="#3d4a40" fill-opacity="0.85"/>
<circle cx="443.90" cy="254.30" r="1.6" fill="#3d4a40" fill-opacity="0.85"/>
<circle cx="419.80" cy="255.70" r="1.6" fill="#3d4a40" fill-opacity="0.85"/>
<circle cx="437.60" cy="262.40" r="1.6" fill="#3d4a40" fill-opacity="0.85"/>
<circle cx="443.30" cy="264.70" r="1.6" fill="#3d4a40" fill-opacity="0.85"/>
<circle cx="442.30" cy="268.70" r="1.6" fill="#3d4a40" fill-opacity="0.85"/>
<circle cx="337.10" cy="279.10" r="1.6" fill="#3d4a40" fill-opacity="0.85"/>
<circle cx="341.50" cy="279.50" r="1.6" fill="#3d4a40" fill-opacity="0.85"/>
<circle cx="351.70" cy="278.00" r="1.6" fill="#3d4a40" fill-opacity="0.85"/>
<circle cx="355.70" cy="290.20" r="1.6" fill="#3d4a40" fill-opacity="0.85"/>
<circle cx="348.30" cy="296.20" r="1.6" fill="#3d4a40" fill-opacity="0.85"/>
<circle cx="345.60" cy="299.30" r="1.6" fill="#3d4a40" fill-opacity="0.85"/>
<circle cx="338.90" cy="304.30" r="1.6" fill="#3d4a40" fill-opacity="0.85"/>
<circle cx="347.50" cy="305.10" r="1.6" fill="#3d4a40" fill-opacity="0.85"/>
<circle cx="344.80" cy="312.80" r="1.6" fill="#3d4a40" fill-opacity="0.85"/>
<circle cx="352.00" cy="313.50" r="1.6" fill="#3d4a40" fill-opacity="0.85"/>
<circle cx="399.10" cy="277.80" r="1.6" fill="#3d4a40" fill-opacity="0.85"/>
<circle cx="415.30" cy="279.10" r="1.6" fill="#3d4a40" fill-opacity="0.85"/>
<circle cx="356.30" cy="290.20" r="1.6" fill="#3d4a40" fill-opacity="0.85"/>
<circle cx="370.20" cy="291.20" r="1.6" fill="#3d4a40" fill-opacity="0.85"/>
<circle cx="358.40" cy="302.40" r="1.6" fill="#3d4a40" fill-opacity="0.85"/>
<circle cx="410.20" cy="298.00" r="1.6" fill="#3d4a40" fill-opacity="0.85"/>
<circle cx="426.20" cy="281.80" r="1.6" fill="#3d4a40" fill-opacity="0.85"/>
<circle cx="437.60" cy="281.40" r="1.6" fill="#3d4a40" fill-opacity="0.85"/>
<circle cx="442.30" cy="283.80" r="1.6" fill="#3d4a40" fill-opacity="0.85"/>
<circle cx="424.20" cy="298.00" r="1.6" fill="#3d4a40" fill-opacity="0.85"/>
<circle cx="463.50" cy="297.20" r="1.6" fill="#3d4a40" fill-opacity="0.85"/>
<circle cx="437.60" cy="301.60" r="1.6" fill="#3d4a40" fill-opacity="0.85"/>
<circle cx="439.20" cy="301.00" r="1.6" fill="#3d4a40" fill-opacity="0.85"/>
<circle cx="444.30" cy="302.40" r="1.6" fill="#3d4a40" fill-opacity="0.85"/>
<circle cx="429.50" cy="311.40" r="1.6" fill="#3d4a40" fill-opacity="0.85"/>
<circle cx="414.00" cy="314.50" r="1.6" fill="#3d4a40" fill-opacity="0.85"/>
<circle cx="331.80" cy="317.40" r="1.6" fill="#3d4a40" fill-opacity="0.85"/>
<circle cx="339.20" cy="316.10" r="1.6" fill="#3d4a40" fill-opacity="0.85"/>
<circle cx="344.10" cy="316.10" r="1.6" fill="#3d4a40" fill-opacity="0.85"/>
<circle cx="352.60" cy="314.70" r="1.6" fill="#3d4a40" fill-opacity="0.85"/>
<circle cx="354.00" cy="316.10" r="1.6" fill="#3d4a40" fill-opacity="0.85"/>
<circle cx="350.90" cy="324.10" r="1.6" fill="#3d4a40" fill-opacity="0.85"/>
<circle cx="351.90" cy="341.20" r="1.6" fill="#3d4a40" fill-opacity="0.85"/>
<circle cx="357.70" cy="314.30" r="1.6" fill="#3d4a40" fill-opacity="0.85"/>
<circle cx="369.50" cy="322.80" r="1.6" fill="#3d4a40" fill-opacity="0.85"/>
<circle cx="400.50" cy="315.70" r="1.6" fill="#3d4a40" fill-opacity="0.85"/>
<circle cx="399.80" cy="319.70" r="1.6" fill="#3d4a40" fill-opacity="0.85"/>
<circle cx="414.20" cy="315.10" r="1.6" fill="#3d4a40" fill-opacity="0.85"/>
<circle cx="408.60" cy="325.50" r="1.6" fill="#3d4a40" fill-opacity="0.85"/>
<circle cx="402.50" cy="329.50" r="1.6" fill="#3d4a40" fill-opacity="0.85"/>
<circle cx="398.50" cy="335.80" r="1.6" fill="#3d4a40" fill-opacity="0.85"/>
<circle cx="408.60" cy="337.60" r="1.6" fill="#3d4a40" fill-opacity="0.85"/>
<circle cx="378.30" cy="338.30" r="1.6" fill="#3d4a40" fill-opacity="0.85"/>
<circle cx="382.70" cy="342.30" r="1.6" fill="#1c261e" fill-opacity="0.85"/>
<circle cx="403.20" cy="342.30" r="1.6" fill="#3d4a40" fill-opacity="0.85"/>
<circle cx="415.30" cy="341.60" r="1.6" fill="#3d4a40" fill-opacity="0.85"/>
<circle cx="414.60" cy="344.30" r="1.6" fill="#3d4a40" fill-opacity="0.85"/>
<circle cx="422.10" cy="324.80" r="1.6" fill="#3d4a40" fill-opacity="0.85"/>
<circle cx="433.30" cy="331.30" r="1.6" fill="#3d4a40" fill-opacity="0.85"/>
<circle cx="437.30" cy="334.50" r="1.6" fill="#3d4a40" fill-opacity="0.85"/>
<circle cx="438.70" cy="337.60" r="1.6" fill="#3d4a40" fill-opacity="0.85"/>
<circle cx="447.70" cy="332.60" r="1.6" fill="#3d4a40" fill-opacity="0.85"/>
<circle cx="428.20" cy="337.90" r="1.6" fill="#3d4a40" fill-opacity="0.85"/>
<circle cx="430.60" cy="337.90" r="1.6" fill="#3d4a40" fill-opacity="0.85"/>
<circle cx="419.40" cy="338.50" r="1.6" fill="#3d4a40" fill-opacity="0.85"/>
<circle cx="416.10" cy="340.70" r="1.6" fill="#3d4a40" fill-opacity="0.85"/>
<circle cx="417.70" cy="342.30" r="1.6" fill="#3d4a40" fill-opacity="0.85"/>
<circle cx="411.40" cy="347.70" r="1.6" fill="#3d4a40" fill-opacity="0.85"/>
<circle cx="413.40" cy="348.40" r="1.6" fill="#3d4a40" fill-opacity="0.85"/>
<circle cx="419.00" cy="349.00" r="1.6" fill="#3d4a40" fill-opacity="0.85"/>
<circle cx="416.10" cy="353.30" r="1.6" fill="#3d4a40" fill-opacity="0.85"/>
<circle cx="419.80" cy="354.40" r="1.6" fill="#3d4a40" fill-opacity="0.85"/>
<circle cx="409.30" cy="355.80" r="1.6" fill="#3d4a40" fill-opacity="0.85"/>
<circle cx="413.40" cy="359.10" r="1.6" fill="#3d4a40" fill-opacity="0.85"/>
<circle cx="417.40" cy="359.10" r="1.6" fill="#3d4a40" fill-opacity="0.85"/>
<circle cx="424.80" cy="359.50" r="1.6" fill="#3d4a40" fill-opacity="0.85"/>
<circle cx="387.00" cy="348.40" r="1.6" fill="#3d4a40" fill-opacity="0.85"/>
<circle cx="412.60" cy="348.40" r="1.6" fill="#3d4a40" fill-opacity="0.85"/>
<circle cx="399.80" cy="350.40" r="1.6" fill="#3d4a40" fill-opacity="0.85"/>
<circle cx="399.80" cy="357.10" r="1.6" fill="#3d4a40" fill-opacity="0.85"/>
<circle cx="409.20" cy="356.40" r="1.6" fill="#3d4a40" fill-opacity="0.85"/>
<circle cx="386.40" cy="358.70" r="1.6" fill="#1c261e" fill-opacity="0.85"/>
<circle cx="379.00" cy="345.30" r="1.6" fill="#3d4a40" fill-opacity="0.85"/>
<circle cx="352.00" cy="341.30" r="1.6" fill="#3d4a40" fill-opacity="0.85"/>
<circle cx="360.10" cy="340.90" r="1.6" fill="#3d4a40" fill-opacity="0.85"/>
<circle cx="363.70" cy="343.60" r="1.6" fill="#3d4a40" fill-opacity="0.85"/>
<circle cx="368.20" cy="342.70" r="1.6" fill="#3d4a40" fill-opacity="0.85"/>
<circle cx="354.20" cy="349.40" r="1.6" fill="#3d4a40" fill-opacity="0.85"/>
<circle cx="362.80" cy="347.60" r="1.6" fill="#3d4a40" fill-opacity="0.85"/>
<circle cx="366.80" cy="346.30" r="1.6" fill="#3d4a40" fill-opacity="0.85"/>
<circle cx="368.60" cy="349.00" r="1.6" fill="#3d4a40" fill-opacity="0.85"/>
<circle cx="372.70" cy="349.00" r="1.6" fill="#3d4a40" fill-opacity="0.85"/>
<circle cx="379.00" cy="344.90" r="1.6" fill="#3d4a40" fill-opacity="0.85"/>
<circle cx="350.60" cy="353.50" r="1.6" fill="#3d4a40" fill-opacity="0.85"/>
<circle cx="343.90" cy="355.30" r="1.6" fill="#3d4a40" fill-opacity="0.85"/>
<circle cx="347.50" cy="358.00" r="1.6" fill="#3d4a40" fill-opacity="0.85"/>
<circle cx="356.00" cy="358.90" r="1.6" fill="#3d4a40" fill-opacity="0.85"/>
<circle cx="359.60" cy="357.10" r="1.6" fill="#3d4a40" fill-opacity="0.85"/>
<circle cx="363.70" cy="358.40" r="1.6" fill="#3d4a40" fill-opacity="0.85"/>
<circle cx="369.50" cy="356.60" r="1.6" fill="#3d4a40" fill-opacity="0.85"/>
<circle cx="370.90" cy="359.30" r="1.6" fill="#3d4a40" fill-opacity="0.85"/>
<circle cx="359.20" cy="361.60" r="1.6" fill="#3d4a40" fill-opacity="0.85"/>
<circle cx="352.00" cy="364.30" r="1.6" fill="#3d4a40" fill-opacity="0.85"/>
<circle cx="356.50" cy="364.30" r="1.6" fill="#3d4a40" fill-opacity="0.85"/>
<circle cx="366.40" cy="362.00" r="1.6" fill="#3d4a40" fill-opacity="0.85"/>
<circle cx="365.00" cy="366.10" r="1.6" fill="#3d4a40" fill-opacity="0.85"/>
<circle cx="369.50" cy="363.40" r="1.6" fill="#3d4a40" fill-opacity="0.85"/>
<circle cx="371.80" cy="364.30" r="1.6" fill="#3d4a40" fill-opacity="0.85"/>
<circle cx="368.20" cy="367.00" r="1.6" fill="#3d4a40" fill-opacity="0.85"/>
<circle cx="377.60" cy="361.10" r="1.6" fill="#1c261e" fill-opacity="0.85"/>
<circle cx="373.60" cy="368.80" r="1.6" fill="#3d4a40" fill-opacity="0.85"/>
<circle cx="368.60" cy="371.90" r="1.6" fill="#3d4a40" fill-opacity="0.85"/>
<circle cx="371.80" cy="373.30" r="1.6" fill="#3d4a40" fill-opacity="0.85"/>
<circle cx="374.50" cy="371.50" r="1.6" fill="#3d4a40" fill-opacity="0.85"/>
<circle cx="377.20" cy="374.20" r="1.6" fill="#3d4a40" fill-opacity="0.85"/>
<circle cx="379.90" cy="376.00" r="1.6" fill="#3d4a40" fill-opacity="0.85"/>
<circle cx="381.70" cy="368.80" r="1.6" fill="#3d4a40" fill-opacity="0.85"/>
<circle cx="352.00" cy="361.00" r="1.6" fill="#3d4a40" fill-opacity="0.85"/>
<circle cx="354.80" cy="362.40" r="1.6" fill="#3d4a40" fill-opacity="0.85"/>
<circle cx="351.40" cy="364.70" r="1.6" fill="#3d4a40" fill-opacity="0.85"/>
<circle cx="355.50" cy="385.30" r="1.6" fill="#3d4a40" fill-opacity="0.85"/>
<circle cx="356.40" cy="385.80" r="1.6" fill="#3d4a40" fill-opacity="0.85"/>
<circle cx="374.80" cy="368.60" r="1.6" fill="#1c261e" fill-opacity="0.85"/>
<circle cx="378.40" cy="370.40" r="1.6" fill="#1c261e" fill-opacity="0.85"/>
<circle cx="381.50" cy="369.00" r="1.6" fill="#1c261e" fill-opacity="0.85"/>
<circle cx="385.60" cy="366.30" r="1.6" fill="#3d4a40" fill-opacity="0.85"/>
<circle cx="384.70" cy="374.00" r="1.6" fill="#1c261e" fill-opacity="0.85"/>
<circle cx="374.80" cy="374.90" r="1.6" fill="#1c261e" fill-opacity="0.85"/>
<circle cx="378.40" cy="375.80" r="1.6" fill="#1c261e" fill-opacity="0.85"/>
<circle cx="381.50" cy="377.60" r="1.6" fill="#1c261e" fill-opacity="0.85"/>
<circle cx="387.80" cy="375.80" r="1.6" fill="#1c261e" fill-opacity="0.85"/>
<circle cx="390.10" cy="377.60" r="1.6" fill="#1c261e" fill-opacity="0.85"/>
<circle cx="394.60" cy="374.00" r="1.6" fill="#3d4a40" fill-opacity="0.85"/>
<circle cx="394.10" cy="381.20" r="1.6" fill="#1c261e" fill-opacity="0.85"/>
<circle cx="380.20" cy="380.70" r="1.6" fill="#1c261e" fill-opacity="0.85"/>
<circle cx="384.20" cy="382.50" r="1.6" fill="#1c261e" fill-opacity="0.85"/>
<circle cx="386.90" cy="380.30" r="1.6" fill="#1c261e" fill-opacity="0.85"/>
<circle cx="389.20" cy="382.50" r="1.6" fill="#1c261e" fill-opacity="0.85"/>
<circle cx="382.90" cy="385.20" r="1.6" fill="#1c261e" fill-opacity="0.85"/>
<circle cx="386.00" cy="387.00" r="1.6" fill="#1c261e" fill-opacity="0.85"/>
<circle cx="397.30" cy="384.30" r="1.6" fill="#1c261e" fill-opacity="0.85"/>
<circle cx="399.10" cy="381.20" r="1.6" fill="#1c261e" fill-opacity="0.85"/>
<circle cx="400.00" cy="377.60" r="1.6" fill="#3d4a40" fill-opacity="0.85"/>
<circle cx="387.80" cy="389.30" r="1.6" fill="#1c261e" fill-opacity="0.85"/>
<circle cx="390.10" cy="391.50" r="1.6" fill="#1c261e" fill-opacity="0.85"/>
<circle cx="389.60" cy="394.20" r="1.6" fill="#1c261e" fill-opacity="0.85"/>
<circle cx="398.60" cy="387.50" r="1.6" fill="#3d4a40" fill-opacity="0.85"/>
<circle cx="399.10" cy="396.40" r="1.6" fill="#3d4a40" fill-opacity="0.85"/>
<circle cx="392.30" cy="399.00" r="1.6" fill="#1c261e" fill-opacity="0.85"/>
<circle cx="394.60" cy="398.20" r="1.6" fill="#1c261e" fill-opacity="0.85"/>
<circle cx="400.90" cy="370.40" r="1.6" fill="#3d4a40" fill-opacity="0.85"/>
<circle cx="394.60" cy="376.70" r="1.6" fill="#1c261e" fill-opacity="0.85"/>
<circle cx="393.90" cy="398.80" r="1.6" fill="#1c261e" fill-opacity="0.85"/>
<circle cx="404.60" cy="395.20" r="1.6" fill="#3d4a40" fill-opacity="0.85"/>
<circle cx="399.30" cy="397.50" r="1.6" fill="#3d4a40" fill-opacity="0.85"/>
<circle cx="400.50" cy="351.10" r="1.6" fill="#3d4a40" fill-opacity="0.85"/>
<circle cx="409.50" cy="355.60" r="1.6" fill="#3d4a40" fill-opacity="0.85"/>
<circle cx="416.20" cy="353.40" r="1.6" fill="#3d4a40" fill-opacity="0.85"/>
<circle cx="419.60" cy="354.50" r="1.6" fill="#3d4a40" fill-opacity="0.85"/>
<circle cx="399.90" cy="357.30" r="1.6" fill="#3d4a40" fill-opacity="0.85"/>
<circle cx="402.70" cy="360.70" r="1.6" fill="#1c261e" fill-opacity="0.85"/>
<circle cx="406.70" cy="361.20" r="1.6" fill="#1c261e" fill-opacity="0.85"/>
<circle cx="412.90" cy="359.60" r="1.6" fill="#1c261e" fill-opacity="0.85"/>
<circle cx="415.10" cy="360.70" r="1.6" fill="#1c261e" fill-opacity="0.85"/>
<circle cx="417.30" cy="360.10" r="1.6" fill="#1c261e" fill-opacity="0.85"/>
<circle cx="410.60" cy="364.00" r="1.6" fill="#1c261e" fill-opacity="0.85"/>
<circle cx="413.40" cy="364.00" r="1.6" fill="#1c261e" fill-opacity="0.85"/>
<circle cx="417.30" cy="362.90" r="1.6" fill="#1c261e" fill-opacity="0.85"/>
<circle cx="420.20" cy="362.90" r="1.6" fill="#3d4a40" fill-opacity="0.85"/>
<circle cx="424.70" cy="360.70" r="1.6" fill="#3d4a40" fill-opacity="0.85"/>
<circle cx="397.10" cy="363.50" r="1.6" fill="#3d4a40" fill-opacity="0.85"/>
<circle cx="406.10" cy="366.90" r="1.6" fill="#1c261e" fill-opacity="0.85"/>
<circle cx="401.10" cy="370.80" r="1.6" fill="#1c261e" fill-opacity="0.85"/>
<circle cx="403.90" cy="370.80" r="1.6" fill="#1c261e" fill-opacity="0.85"/>
<circle cx="402.70" cy="372.50" r="1.6" fill="#1c261e" fill-opacity="0.85"/>
<circle cx="405.60" cy="372.50" r="1.6" fill="#1c261e" fill-opacity="0.85"/>
<circle cx="408.40" cy="371.90" r="1.6" fill="#1c261e" fill-opacity="0.85"/>
<circle cx="404.40" cy="374.20" r="1.6" fill="#1c261e" fill-opacity="0.85"/>
<circle cx="407.20" cy="375.80" r="1.6" fill="#1c261e" fill-opacity="0.85"/>
<circle cx="414.50" cy="374.20" r="1.6" fill="#3d4a40" fill-opacity="0.85"/>
<circle cx="397.10" cy="377.00" r="1.6" fill="#1c261e" fill-opacity="0.85"/>
<circle cx="400.50" cy="378.70" r="1.6" fill="#1c261e" fill-opacity="0.85"/>
<circle cx="411.20" cy="378.70" r="1.6" fill="#3d4a40" fill-opacity="0.85"/>
<circle cx="398.20" cy="380.30" r="1.6" fill="#1c261e" fill-opacity="0.85"/>
<circle cx="406.10" cy="382.00" r="1.6" fill="#3d4a40" fill-opacity="0.85"/>
<circle cx="396.60" cy="382.60" r="1.6" fill="#1c261e" fill-opacity="0.85"/>
<circle cx="401.10" cy="384.30" r="1.6" fill="#3d4a40" fill-opacity="0.85"/>
<circle cx="399.40" cy="396.60" r="1.6" fill="#3d4a40" fill-opacity="0.85"/>
<circle cx="404.40" cy="395.50" r="1.6" fill="#3d4a40" fill-opacity="0.85"/>
<circle cx="378.42" cy="378.13" r="1.6" fill="#1c261e" fill-opacity="0.85"/>
<circle cx="372.22" cy="371.89" r="1.6" fill="#1c261e" fill-opacity="0.85"/>
<circle cx="385.25" cy="382.09" r="1.6" fill="#1c261e" fill-opacity="0.85"/>
<circle cx="383.64" cy="382.12" r="1.6" fill="#1c261e" fill-opacity="0.85"/>
<circle cx="374.53" cy="368.44" r="1.6" fill="#1c261e" fill-opacity="0.85"/>
<circle cx="374.69" cy="370.70" r="1.6" fill="#1c261e" fill-opacity="0.85"/>
<circle cx="378.83" cy="373.28" r="1.6" fill="#1c261e" fill-opacity="0.85"/>
<circle cx="384.30" cy="386.98" r="1.6" fill="#1c261e" fill-opacity="0.85"/>
<circle cx="382.58" cy="378.02" r="1.6" fill="#1c261e" fill-opacity="0.85"/>
<circle cx="389.79" cy="390.99" r="1.6" fill="#1c261e" fill-opacity="0.85"/>
<circle cx="379.48" cy="370.84" r="1.6" fill="#1c261e" fill-opacity="0.85"/>
<circle cx="384.40" cy="383.32" r="1.6" fill="#1c261e" fill-opacity="0.85"/>
<circle cx="377.26" cy="373.78" r="1.6" fill="#1c261e" fill-opacity="0.85"/>
<circle cx="389.54" cy="385.09" r="1.6" fill="#1c261e" fill-opacity="0.85"/>
<circle cx="385.11" cy="384.44" r="1.6" fill="#1c261e" fill-opacity="0.85"/>
<circle cx="380.57" cy="372.80" r="1.6" fill="#1c261e" fill-opacity="0.85"/>
<circle cx="384.91" cy="380.26" r="1.6" fill="#1c261e" fill-opacity="0.85"/>
<circle cx="375.55" cy="367.69" r="1.6" fill="#1c261e" fill-opacity="0.85"/>
<circle cx="388.59" cy="381.04" r="1.6" fill="#1c261e" fill-opacity="0.85"/>
<circle cx="393.47" cy="390.65" r="1.6" fill="#1c261e" fill-opacity="0.85"/>
<circle cx="383.21" cy="386.38" r="1.6" fill="#1c261e" fill-opacity="0.85"/>
<circle cx="389.47" cy="380.63" r="1.6" fill="#1c261e" fill-opacity="0.85"/>
<circle cx="392.73" cy="394.36" r="1.6" fill="#1c261e" fill-opacity="0.85"/>
<circle cx="383.80" cy="380.50" r="1.6" fill="#1c261e" fill-opacity="0.85"/>
<circle cx="383.50" cy="388.52" r="1.6" fill="#1c261e" fill-opacity="0.85"/>
<circle cx="379.42" cy="375.55" r="1.6" fill="#1c261e" fill-opacity="0.85"/>
<circle cx="381.70" cy="378.24" r="1.6" fill="#1c261e" fill-opacity="0.85"/>
<circle cx="383.53" cy="380.16" r="1.6" fill="#1c261e" fill-opacity="0.85"/>
<circle cx="377.19" cy="368.21" r="1.6" fill="#1c261e" fill-opacity="0.85"/>
<circle cx="391.64" cy="392.50" r="1.6" fill="#1c261e" fill-opacity="0.85"/>
<circle cx="389.96" cy="390.99" r="1.6" fill="#1c261e" fill-opacity="0.85"/>
<circle cx="383.36" cy="378.21" r="1.6" fill="#1c261e" fill-opacity="0.85"/>
<circle cx="377.11" cy="380.77" r="1.6" fill="#1c261e" fill-opacity="0.85"/>
<circle cx="379.69" cy="369.33" r="1.6" fill="#1c261e" fill-opacity="0.85"/>
<circle cx="385.98" cy="383.89" r="1.6" fill="#1c261e" fill-opacity="0.85"/>
<circle cx="382.03" cy="379.46" r="1.6" fill="#1c261e" fill-opacity="0.85"/>
<circle cx="385.68" cy="374.25" r="1.6" fill="#1c261e" fill-opacity="0.85"/>
<circle cx="390.21" cy="385.00" r="1.6" fill="#1c261e" fill-opacity="0.85"/>
<circle cx="376.23" cy="367.80" r="1.6" fill="#1c261e" fill-opacity="0.85"/>
<circle cx="392.02" cy="392.91" r="1.6" fill="#1c261e" fill-opacity="0.85"/>
<circle cx="373.11" cy="370.71" r="1.6" fill="#1c261e" fill-opacity="0.85"/>
<circle cx="376.00" cy="372.84" r="1.6" fill="#1c261e" fill-opacity="0.85"/>
<circle cx="403.82" cy="373.99" r="1.6" fill="#1c261e" fill-opacity="0.85"/>
<circle cx="403.69" cy="379.11" r="1.6" fill="#1c261e" fill-opacity="0.85"/>
<circle cx="408.64" cy="368.39" r="1.6" fill="#1c261e" fill-opacity="0.85"/>
<circle cx="398.90" cy="382.30" r="1.6" fill="#1c261e" fill-opacity="0.85"/>
<circle cx="403.02" cy="383.01" r="1.6" fill="#1c261e" fill-opacity="0.85"/>
<circle cx="398.43" cy="381.16" r="1.6" fill="#1c261e" fill-opacity="0.85"/>
<circle cx="404.39" cy="369.08" r="1.6" fill="#1c261e" fill-opacity="0.85"/>
<circle cx="399.47" cy="377.08" r="1.6" fill="#1c261e" fill-opacity="0.85"/>
<circle cx="473.00" cy="146.70" r="1.6" fill="#46603f" fill-opacity="0.85"/>
<circle cx="475.00" cy="146.70" r="1.6" fill="#46603f" fill-opacity="0.85"/>
<circle cx="416.60" cy="209.30" r="1.6" fill="#c8452e" fill-opacity="0.85"/>
<circle cx="449.50" cy="185.80" r="1.6" fill="#46603f" fill-opacity="0.85"/>
<circle cx="443.00" cy="210.70" r="1.6" fill="#46603f" fill-opacity="0.85"/>
<circle cx="414.30" cy="265.80" r="1.6" fill="#c8452e" fill-opacity="0.85"/>
<circle cx="379.60" cy="279.80" r="1.6" fill="#c8452e" fill-opacity="0.85"/>
<circle cx="382.30" cy="281.80" r="1.6" fill="#c8452e" fill-opacity="0.85"/>
<circle cx="414.00" cy="277.80" r="1.6" fill="#a8452e" fill-opacity="0.85"/>
<circle cx="416.70" cy="311.40" r="1.6" fill="#c8452e" fill-opacity="0.85"/>
<circle cx="330.40" cy="343.40" r="1.6" fill="#c8452e" fill-opacity="0.85"/>
<circle cx="382.30" cy="322.40" r="1.6" fill="#c8452e" fill-opacity="0.85"/>
<circle cx="409.20" cy="343.00" r="1.6" fill="#c8452e" fill-opacity="0.85"/>
<circle cx="356.50" cy="346.30" r="1.6" fill="#bf4430" fill-opacity="0.85"/>
<circle cx="358.70" cy="347.60" r="1.6" fill="#bf4430" fill-opacity="0.85"/>
<circle cx="365.50" cy="350.80" r="1.6" fill="#bf4430" fill-opacity="0.85"/>
<circle cx="365.00" cy="353.50" r="1.6" fill="#bf4430" fill-opacity="0.85"/>
<circle cx="353.80" cy="357.50" r="1.6" fill="#a8452e" fill-opacity="0.85"/>
<circle cx="350.20" cy="361.60" r="1.6" fill="#a8452e" fill-opacity="0.85"/>
<circle cx="379.00" cy="366.10" r="1.6" fill="#c8452e" fill-opacity="0.85"/>
<circle cx="350.70" cy="358.40" r="1.6" fill="#c8452e" fill-opacity="0.85"/>
<circle cx="389.60" cy="371.30" r="1.6" fill="#a8452e" fill-opacity="0.85"/>
<circle cx="392.30" cy="387.50" r="1.6" fill="#bf4430" fill-opacity="0.85"/>
<circle cx="394.60" cy="387.00" r="1.6" fill="#bf4430" fill-opacity="0.85"/>
<circle cx="393.70" cy="393.30" r="1.6" fill="#46603f" fill-opacity="0.85"/>
<circle cx="377.70" cy="361.00" r="1.6" fill="#c8452e" fill-opacity="0.85"/>
<circle cx="379.00" cy="365.80" r="1.6" fill="#c8452e" fill-opacity="0.85"/>
<circle cx="389.80" cy="371.90" r="1.6" fill="#c8452e" fill-opacity="0.85"/>
<circle cx="398.20" cy="387.60" r="1.6" fill="#bf4430" fill-opacity="0.85"/>
<circle cx="378.22" cy="376.76" r="1.6" fill="#bf4430" fill-opacity="0.85"/>
<circle cx="370.11" cy="375.66" r="1.6" fill="#bf4430" fill-opacity="0.85"/>
<circle cx="389.04" cy="386.44" r="1.6" fill="#bf4430" fill-opacity="0.85"/>
<circle cx="376.18" cy="372.96" r="1.6" fill="#bf4430" fill-opacity="0.85"/>
<circle cx="389.43" cy="389.13" r="1.6" fill="#bf4430" fill-opacity="0.85"/>
<circle cx="375.82" cy="371.52" r="1.6" fill="#bf4430" fill-opacity="0.85"/>
<circle cx="382.21" cy="382.28" r="1.6" fill="#bf4430" fill-opacity="0.85"/>
<circle cx="394.59" cy="386.26" r="1.6" fill="#bf4430" fill-opacity="0.85"/>
<circle cx="386.40" cy="385.58" r="1.6" fill="#bf4430" fill-opacity="0.85"/>
<circle cx="399.22" cy="381.44" r="1.6" fill="#bf4430" fill-opacity="0.85"/>
<circle cx="404.75" cy="375.90" r="1.6" fill="#bf4430" fill-opacity="0.85"/>
<circle cx="406.24" cy="367.56" r="1.6" fill="#bf4430" fill-opacity="0.85"/>
<circle cx="399.67" cy="381.32" r="1.6" fill="#bf4430" fill-opacity="0.85"/>
<circle cx="382.40" cy="342.30" r="1.55" fill="#d2452c" fill-opacity="0.9"/>
<circle cx="403.10" cy="342.30" r="1.55" fill="#d2452c" fill-opacity="0.9"/>
<circle cx="409.20" cy="343.30" r="1.55" fill="#d2452c" fill-opacity="0.9"/>
<circle cx="399.70" cy="350.90" r="1.55" fill="#d2452c" fill-opacity="0.9"/>
<circle cx="353.80" cy="357.50" r="1.55" fill="#d2452c" fill-opacity="0.9"/>
<circle cx="366.00" cy="353.20" r="1.55" fill="#d2452c" fill-opacity="0.9"/>
<circle cx="370.30" cy="362.70" r="1.55" fill="#d2452c" fill-opacity="0.9"/>
<circle cx="377.20" cy="361.00" r="1.55" fill="#d2452c" fill-opacity="0.9"/>
<circle cx="373.70" cy="371.30" r="1.55" fill="#d2452c" fill-opacity="0.9"/>
<circle cx="381.50" cy="368.70" r="1.55" fill="#d2452c" fill-opacity="0.9"/>
<circle cx="389.30" cy="371.30" r="1.55" fill="#d2452c" fill-opacity="0.9"/>
<circle cx="382.40" cy="376.50" r="1.55" fill="#d2452c" fill-opacity="0.9"/>
<circle cx="393.60" cy="386.00" r="1.55" fill="#d2452c" fill-opacity="0.9"/>
<circle cx="385.80" cy="390.40" r="1.55" fill="#d2452c" fill-opacity="0.9"/>
<circle cx="377.20" cy="367.00" r="1.55" fill="#d2452c" fill-opacity="0.9"/>
<circle cx="402.30" cy="377.40" r="1.55" fill="#d2452c" fill-opacity="0.9"/>
<circle cx="330.40" cy="343.40" r="1.55" fill="#d2452c" fill-opacity="0.9"/>
<circle cx="366.40" cy="259.50" r="1.55" fill="#d2452c" fill-opacity="0.9"/>
<circle cx="379.10" cy="280.00" r="1.55" fill="#d2452c" fill-opacity="0.9"/>
<circle cx="401.60" cy="271.20" r="1.55" fill="#d2452c" fill-opacity="0.9"/>
<circle cx="414.30" cy="277.50" r="1.55" fill="#d2452c" fill-opacity="0.9"/>
<circle cx="410.10" cy="298.70" r="1.55" fill="#d2452c" fill-opacity="0.9"/>
<circle cx="378.70" cy="225.20" r="1.55" fill="#d2452c" fill-opacity="0.9"/>
<circle cx="379.00" cy="207.20" r="1.55" fill="#d2452c" fill-opacity="0.9"/>
<circle cx="414.30" cy="223.50" r="1.55" fill="#d2452c" fill-opacity="0.9"/>
<rect x="39.50" y="132.50" width="211.00" height="280.00" fill="none" stroke="#222" stroke-width="1.3"/>
<rect x="287.50" y="132.50" width="211.00" height="280.00" fill="none" stroke="#222" stroke-width="1.3"/>
<rect x="0" y="0" width="520" height="1" fill="#5b5b5b"/><rect x="0" y="444" width="520" height="1" fill="#5b5b5b"/><rect x="0" y="0" width="1" height="445" fill="#5b5b5b"/><rect x="519" y="0" width="1" height="445" fill="#5b5b5b"/>
</svg>
</body></html>
